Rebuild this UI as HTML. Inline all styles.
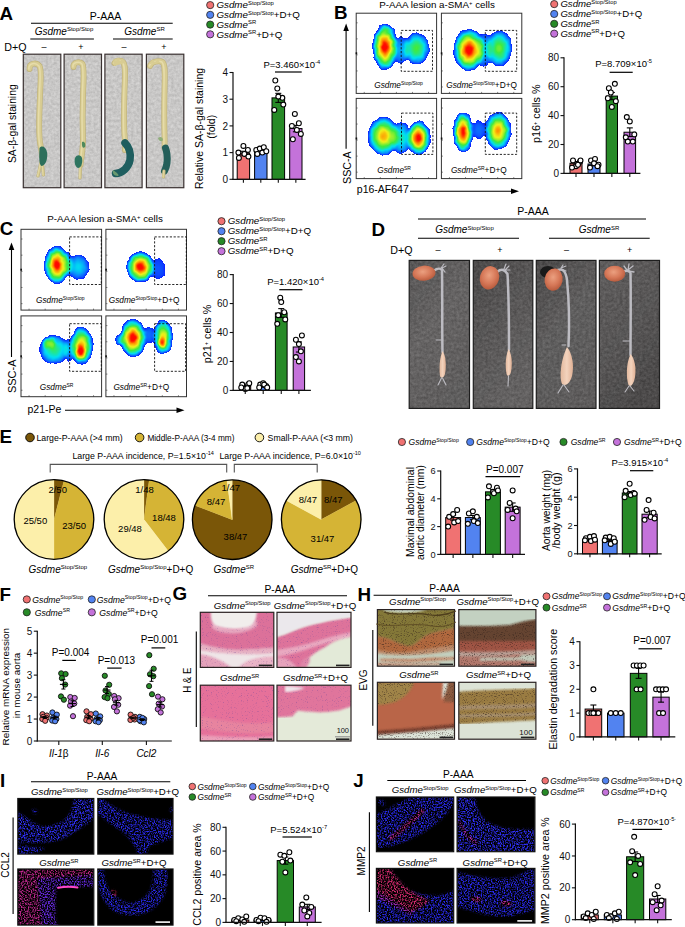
<!DOCTYPE html><html><head><meta charset="utf-8"><style>html,body{margin:0;padding:0;background:#fff;width:685px;height:927px;overflow:hidden}svg text{font-family:"Liberation Sans", sans-serif;}</style></head><body><svg width="685" height="927" viewBox="0 0 685 927" style="display:block"><defs><filter id="jet" x="0" y="0" width="1" height="1" color-interpolation-filters="sRGB">
<feTurbulence type="fractalNoise" baseFrequency="0.25" numOctaves="2" seed="4" result="tn"/>
<feDisplacementMap in="SourceGraphic" in2="tn" scale="4" xChannelSelector="R" yChannelSelector="G" result="dsp"/>
<feGaussianBlur in="dsp" stdDeviation="1.0"/>
<feColorMatrix type="matrix" values="0 0 0 1 0  0 0 0 1 0  0 0 0 1 0  0 0 0 1 0"/>
<feComponentTransfer><feFuncR type="table" tableValues="0.000 0.013 0.025 0.037 0.050 0.050 0.050 0.050 0.050 0.050 0.050 0.043 0.035 0.028 0.021 0.013 0.006 0.007 0.042 0.076 0.111 0.146 0.181 0.215 0.250 0.359 0.469 0.578 0.687 0.797 0.906 0.957 0.968 0.980 0.991 1.000 1.000 1.000 1.000 1.000 1.000"/><feFuncG type="table" tableValues="0.000 0.030 0.060 0.090 0.120 0.175 0.230 0.285 0.340 0.395 0.450 0.513 0.576 0.640 0.703 0.766 0.829 0.881 0.887 0.892 0.898 0.903 0.909 0.914 0.920 0.925 0.929 0.934 0.939 0.943 0.948 0.895 0.805 0.714 0.623 0.519 0.362 0.206 0.050 0.025 0.000"/><feFuncB type="table" tableValues="1.000 1.000 1.000 1.000 1.000 1.000 1.000 1.000 1.000 1.000 1.000 0.993 0.985 0.978 0.971 0.963 0.956 0.931 0.833 0.736 0.639 0.542 0.444 0.347 0.250 0.227 0.203 0.180 0.156 0.133 0.109 0.086 0.064 0.041 0.018 0.000 0.000 0.000 0.000 0.000 0.000"/><feFuncA type="discrete" tableValues="0 0 0 0 1 1 1 1 1 1 1 1 1 1 1 1 1 1 1 1 1 1 1 1 1 1 1 1 1 1 1 1 1 1 1 1 1 1 1 1"/></feComponentTransfer>
</filter><filter id="texp" x="0" y="0" width="100%" height="100%" color-interpolation-filters="sRGB"><feGaussianBlur in="SourceGraphic" stdDeviation="0.8" result="b"/><feTurbulence type="fractalNoise" baseFrequency="0.8" numOctaves="2" seed="9" result="n"/><feColorMatrix in="n" type="matrix" values="0 0 0 0 0.5  0 0 0 0 0.3  0 0 0 0 0.6  2.2 0 0 0 -1.35" result="m"/><feComposite in="m" in2="b" operator="in" result="d"/><feMerge><feMergeNode in="b"/><feMergeNode in="d"/></feMerge></filter><filter id="gnoise" x="0" y="0" width="100%" height="100%" color-interpolation-filters="sRGB"><feTurbulence type="fractalNoise" baseFrequency="0.35" numOctaves="3" seed="11" result="n"/><feColorMatrix in="n" type="matrix" values="1.4 0 0 0 -0.2  1.4 0 0 0 -0.2  1.4 0 0 0 -0.2  0 0 0 0 0.12" result="g"/><feComposite in="g" in2="SourceGraphic" operator="in" result="gc"/><feMerge><feMergeNode in="SourceGraphic"/><feMergeNode in="gc"/></feMerge></filter><filter id="speck" x="0" y="0" width="100%" height="100%" color-interpolation-filters="sRGB"><feGaussianBlur in="SourceGraphic" stdDeviation="1.0" result="b"/><feTurbulence type="fractalNoise" baseFrequency="0.7" numOctaves="3" seed="3" result="n"/><feColorMatrix in="n" type="matrix" values="0 0 0 0 0  0 0 0 0 0  0 0 0 0 0  3.2 0 0 0 -1.3" result="m"/><feComposite in="b" in2="m" operator="in"/></filter><filter id="tex" x="0" y="0" width="100%" height="100%" color-interpolation-filters="sRGB"><feGaussianBlur in="SourceGraphic" stdDeviation="0.9" result="b"/><feTurbulence type="fractalNoise" baseFrequency="0.9" numOctaves="1" seed="5" result="n"/><feColorMatrix in="n" type="matrix" values="0 0 0 0 0.18  0 0 0 0 0.12  0 0 0 0 0.1  2.6 0 0 0 -1.42" result="m"/><feComposite in="m" in2="b" operator="in" result="d"/><feMerge><feMergeNode in="b"/><feMergeNode in="d"/></feMerge></filter><filter id="soft2" x="-5%" y="-5%" width="110%" height="110%"><feGaussianBlur stdDeviation="1.2"/></filter><clipPath id="c356_13"><rect x="356.2" y="13.2" width="80.4" height="80.2"/></clipPath><radialGradient id="rg0"><stop offset="0" stop-color="#fff" stop-opacity="1.000"/><stop offset="0.2" stop-color="#fff" stop-opacity="0.948"/><stop offset="0.4" stop-color="#fff" stop-opacity="0.826"/><stop offset="0.6" stop-color="#fff" stop-opacity="0.669"/><stop offset="0.75" stop-color="#fff" stop-opacity="0.513"/><stop offset="0.88" stop-color="#fff" stop-opacity="0.339"/><stop offset="0.96" stop-color="#fff" stop-opacity="0.200"/><stop offset="1.0" stop-color="#fff" stop-opacity="0.130"/></radialGradient><radialGradient id="rg1"><stop offset="0" stop-color="#fff" stop-opacity="0.620"/><stop offset="0.2" stop-color="#fff" stop-opacity="0.591"/><stop offset="0.4" stop-color="#fff" stop-opacity="0.522"/><stop offset="0.6" stop-color="#fff" stop-opacity="0.434"/><stop offset="0.75" stop-color="#fff" stop-opacity="0.346"/><stop offset="0.88" stop-color="#fff" stop-opacity="0.248"/><stop offset="0.96" stop-color="#fff" stop-opacity="0.169"/><stop offset="1.0" stop-color="#fff" stop-opacity="0.130"/></radialGradient><radialGradient id="rg2"><stop offset="0" stop-color="#fff" stop-opacity="0.350"/><stop offset="0.2" stop-color="#fff" stop-opacity="0.337"/><stop offset="0.4" stop-color="#fff" stop-opacity="0.306"/><stop offset="0.6" stop-color="#fff" stop-opacity="0.266"/><stop offset="0.75" stop-color="#fff" stop-opacity="0.227"/><stop offset="0.88" stop-color="#fff" stop-opacity="0.183"/><stop offset="0.96" stop-color="#fff" stop-opacity="0.148"/><stop offset="1.0" stop-color="#fff" stop-opacity="0.130"/></radialGradient><radialGradient id="rg3"><stop offset="0" stop-color="#fff" stop-opacity="0.200"/><stop offset="0.2" stop-color="#fff" stop-opacity="0.196"/><stop offset="0.4" stop-color="#fff" stop-opacity="0.186"/><stop offset="0.6" stop-color="#fff" stop-opacity="0.173"/><stop offset="0.75" stop-color="#fff" stop-opacity="0.161"/><stop offset="0.88" stop-color="#fff" stop-opacity="0.147"/><stop offset="0.96" stop-color="#fff" stop-opacity="0.136"/><stop offset="1.0" stop-color="#fff" stop-opacity="0.130"/></radialGradient><clipPath id="c441_13"><rect x="441.4" y="13.2" width="80.4" height="80.2"/></clipPath><radialGradient id="rg4"><stop offset="0" stop-color="#fff" stop-opacity="0.660"/><stop offset="0.2" stop-color="#fff" stop-opacity="0.628"/><stop offset="0.4" stop-color="#fff" stop-opacity="0.554"/><stop offset="0.6" stop-color="#fff" stop-opacity="0.459"/><stop offset="0.75" stop-color="#fff" stop-opacity="0.363"/><stop offset="0.88" stop-color="#fff" stop-opacity="0.257"/><stop offset="0.96" stop-color="#fff" stop-opacity="0.172"/><stop offset="1.0" stop-color="#fff" stop-opacity="0.130"/></radialGradient><radialGradient id="rg5"><stop offset="0" stop-color="#fff" stop-opacity="0.380"/><stop offset="0.2" stop-color="#fff" stop-opacity="0.365"/><stop offset="0.4" stop-color="#fff" stop-opacity="0.330"/><stop offset="0.6" stop-color="#fff" stop-opacity="0.285"/><stop offset="0.75" stop-color="#fff" stop-opacity="0.240"/><stop offset="0.88" stop-color="#fff" stop-opacity="0.190"/><stop offset="0.96" stop-color="#fff" stop-opacity="0.150"/><stop offset="1.0" stop-color="#fff" stop-opacity="0.130"/></radialGradient><clipPath id="c356_98"><rect x="356.2" y="98.4" width="80.4" height="80.2"/></clipPath><radialGradient id="rg6"><stop offset="0" stop-color="#fff" stop-opacity="0.860"/><stop offset="0.2" stop-color="#fff" stop-opacity="0.816"/><stop offset="0.4" stop-color="#fff" stop-opacity="0.714"/><stop offset="0.6" stop-color="#fff" stop-opacity="0.583"/><stop offset="0.75" stop-color="#fff" stop-opacity="0.451"/><stop offset="0.88" stop-color="#fff" stop-opacity="0.305"/><stop offset="0.96" stop-color="#fff" stop-opacity="0.188"/><stop offset="1.0" stop-color="#fff" stop-opacity="0.130"/></radialGradient><radialGradient id="rg7"><stop offset="0" stop-color="#fff" stop-opacity="0.500"/><stop offset="0.2" stop-color="#fff" stop-opacity="0.478"/><stop offset="0.4" stop-color="#fff" stop-opacity="0.426"/><stop offset="0.6" stop-color="#fff" stop-opacity="0.359"/><stop offset="0.75" stop-color="#fff" stop-opacity="0.293"/><stop offset="0.88" stop-color="#fff" stop-opacity="0.219"/><stop offset="0.96" stop-color="#fff" stop-opacity="0.160"/><stop offset="1.0" stop-color="#fff" stop-opacity="0.130"/></radialGradient><clipPath id="c441_98"><rect x="441.4" y="98.4" width="80.4" height="80.2"/></clipPath><radialGradient id="rg8"><stop offset="0" stop-color="#fff" stop-opacity="0.880"/><stop offset="0.2" stop-color="#fff" stop-opacity="0.835"/><stop offset="0.4" stop-color="#fff" stop-opacity="0.730"/><stop offset="0.6" stop-color="#fff" stop-opacity="0.595"/><stop offset="0.75" stop-color="#fff" stop-opacity="0.460"/><stop offset="0.88" stop-color="#fff" stop-opacity="0.310"/><stop offset="0.96" stop-color="#fff" stop-opacity="0.190"/><stop offset="1.0" stop-color="#fff" stop-opacity="0.130"/></radialGradient><radialGradient id="rg9"><stop offset="0" stop-color="#fff" stop-opacity="0.250"/><stop offset="0.2" stop-color="#fff" stop-opacity="0.243"/><stop offset="0.4" stop-color="#fff" stop-opacity="0.226"/><stop offset="0.6" stop-color="#fff" stop-opacity="0.204"/><stop offset="0.75" stop-color="#fff" stop-opacity="0.183"/><stop offset="0.88" stop-color="#fff" stop-opacity="0.159"/><stop offset="0.96" stop-color="#fff" stop-opacity="0.140"/><stop offset="1.0" stop-color="#fff" stop-opacity="0.130"/></radialGradient><clipPath id="c21_229"><rect x="21" y="229.3" width="80.6" height="80.8"/></clipPath><radialGradient id="rg10"><stop offset="0" stop-color="#fff" stop-opacity="0.420"/><stop offset="0.2" stop-color="#fff" stop-opacity="0.403"/><stop offset="0.4" stop-color="#fff" stop-opacity="0.362"/><stop offset="0.6" stop-color="#fff" stop-opacity="0.310"/><stop offset="0.75" stop-color="#fff" stop-opacity="0.258"/><stop offset="0.88" stop-color="#fff" stop-opacity="0.200"/><stop offset="0.96" stop-color="#fff" stop-opacity="0.153"/><stop offset="1.0" stop-color="#fff" stop-opacity="0.130"/></radialGradient><radialGradient id="rg11"><stop offset="0" stop-color="#fff" stop-opacity="0.300"/><stop offset="0.2" stop-color="#fff" stop-opacity="0.290"/><stop offset="0.4" stop-color="#fff" stop-opacity="0.266"/><stop offset="0.6" stop-color="#fff" stop-opacity="0.235"/><stop offset="0.75" stop-color="#fff" stop-opacity="0.205"/><stop offset="0.88" stop-color="#fff" stop-opacity="0.171"/><stop offset="0.96" stop-color="#fff" stop-opacity="0.144"/><stop offset="1.0" stop-color="#fff" stop-opacity="0.130"/></radialGradient><clipPath id="c105_229"><rect x="105.9" y="229.3" width="80.6" height="80.8"/></clipPath><clipPath id="c21_315"><rect x="21" y="315.9" width="80.6" height="80.8"/></clipPath><radialGradient id="rg12"><stop offset="0" stop-color="#fff" stop-opacity="0.560"/><stop offset="0.2" stop-color="#fff" stop-opacity="0.534"/><stop offset="0.4" stop-color="#fff" stop-opacity="0.474"/><stop offset="0.6" stop-color="#fff" stop-opacity="0.397"/><stop offset="0.75" stop-color="#fff" stop-opacity="0.319"/><stop offset="0.88" stop-color="#fff" stop-opacity="0.233"/><stop offset="0.96" stop-color="#fff" stop-opacity="0.164"/><stop offset="1.0" stop-color="#fff" stop-opacity="0.130"/></radialGradient><radialGradient id="rg13"><stop offset="0" stop-color="#fff" stop-opacity="0.450"/><stop offset="0.2" stop-color="#fff" stop-opacity="0.431"/><stop offset="0.4" stop-color="#fff" stop-opacity="0.386"/><stop offset="0.6" stop-color="#fff" stop-opacity="0.328"/><stop offset="0.75" stop-color="#fff" stop-opacity="0.271"/><stop offset="0.88" stop-color="#fff" stop-opacity="0.207"/><stop offset="0.96" stop-color="#fff" stop-opacity="0.156"/><stop offset="1.0" stop-color="#fff" stop-opacity="0.130"/></radialGradient><radialGradient id="rg14"><stop offset="0" stop-color="#fff" stop-opacity="0.850"/><stop offset="0.2" stop-color="#fff" stop-opacity="0.807"/><stop offset="0.4" stop-color="#fff" stop-opacity="0.706"/><stop offset="0.6" stop-color="#fff" stop-opacity="0.576"/><stop offset="0.75" stop-color="#fff" stop-opacity="0.447"/><stop offset="0.88" stop-color="#fff" stop-opacity="0.303"/><stop offset="0.96" stop-color="#fff" stop-opacity="0.188"/><stop offset="1.0" stop-color="#fff" stop-opacity="0.130"/></radialGradient><clipPath id="c105_315"><rect x="105.9" y="315.9" width="80.6" height="80.8"/></clipPath><radialGradient id="rg15"><stop offset="0" stop-color="#fff" stop-opacity="0.800"/><stop offset="0.2" stop-color="#fff" stop-opacity="0.760"/><stop offset="0.4" stop-color="#fff" stop-opacity="0.666"/><stop offset="0.6" stop-color="#fff" stop-opacity="0.545"/><stop offset="0.75" stop-color="#fff" stop-opacity="0.425"/><stop offset="0.88" stop-color="#fff" stop-opacity="0.291"/><stop offset="0.96" stop-color="#fff" stop-opacity="0.184"/><stop offset="1.0" stop-color="#fff" stop-opacity="0.130"/></radialGradient><linearGradient id="dbg" x1="0" y1="0" x2="0.4" y2="1"><stop offset="0" stop-color="#434343"/><stop offset="0.5" stop-color="#555555"/><stop offset="1" stop-color="#525252"/></linearGradient><radialGradient id="heart" cx="0.45" cy="0.4" r="0.6"><stop offset="0" stop-color="#eba080"/><stop offset="0.6" stop-color="#d67858"/><stop offset="1" stop-color="#b95c3e"/></radialGradient><linearGradient id="bulge" x1="0" y1="0" x2="1" y2="0"><stop offset="0" stop-color="#e3b99e"/><stop offset="0.5" stop-color="#f3d3bd"/><stop offset="1" stop-color="#e0b094"/></linearGradient><linearGradient id="dbg0" x1="0" y1="0" x2="0.5" y2="1"><stop offset="0" stop-color="#535151"/><stop offset="0.5" stop-color="#636161"/><stop offset="1" stop-color="#5c5a5a"/></linearGradient><linearGradient id="dbg1" x1="0" y1="0" x2="0.5" y2="1"><stop offset="0" stop-color="#444242"/><stop offset="0.5" stop-color="#555353"/><stop offset="1" stop-color="#615f5f"/></linearGradient><linearGradient id="dbg2" x1="0" y1="0" x2="0.5" y2="1"><stop offset="0" stop-color="#444242"/><stop offset="0.5" stop-color="#5c5a5a"/><stop offset="1" stop-color="#5a5858"/></linearGradient><linearGradient id="dbg3" x1="0" y1="0" x2="0.5" y2="1"><stop offset="0" stop-color="#5a5858"/><stop offset="0.5" stop-color="#555353"/><stop offset="1" stop-color="#464444"/></linearGradient><filter id="soft" x="-5%" y="-5%" width="110%" height="110%"><feGaussianBlur stdDeviation="0.8"/></filter><clipPath id="ci200_612"><rect x="200.3" y="612.3" width="73.5" height="55.1"/></clipPath><clipPath id="ci277_612"><rect x="277" y="612.3" width="74" height="55.1"/></clipPath><clipPath id="ci200_685"><rect x="200.3" y="685.2" width="73.5" height="55.8"/></clipPath><clipPath id="ci277_685"><rect x="277" y="685.2" width="74" height="55.8"/></clipPath><clipPath id="ci377_609"><rect x="377.4" y="609.6" width="77.1" height="56.6"/></clipPath><clipPath id="ci458_609"><rect x="458.8" y="609.6" width="77.1" height="56.6"/></clipPath><clipPath id="ci377_682"><rect x="377.4" y="682.3" width="77.1" height="56.9"/></clipPath><clipPath id="ci458_682"><rect x="458.8" y="682.3" width="77.1" height="56.9"/></clipPath><clipPath id="ci17_798"><rect x="17.8" y="798.5" width="76" height="55.6"/></clipPath><clipPath id="ci97_798"><rect x="97.8" y="798.5" width="75.2" height="55.6"/></clipPath><clipPath id="ci17_869"><rect x="17.8" y="869" width="76" height="56.1"/></clipPath><clipPath id="ci97_869"><rect x="97.8" y="869" width="75.2" height="56.1"/></clipPath><clipPath id="ci376_797"><rect x="376.4" y="797" width="77.3" height="54.7"/></clipPath><clipPath id="ci457_797"><rect x="457.1" y="797" width="77.8" height="54.7"/></clipPath><clipPath id="ci376_868"><rect x="376.4" y="868.4" width="77.3" height="54.6"/></clipPath><clipPath id="ci457_868"><rect x="457.1" y="868.4" width="77.8" height="54.6"/></clipPath></defs><text x="-0.5" y="19.6" font-size="18.8" font-weight="bold" >A</text>
<text x="105.5" y="19.6" font-size="10.5" text-anchor="middle" >P-AAA</text>
<line x1="31" y1="23.2" x2="172.7" y2="23.2" stroke="#000" stroke-width="1.1" />
<text x="64" y="35" font-size="10" text-anchor="middle"><tspan font-style="italic">Gsdme</tspan><tspan font-size="6" dy="-3.6">Stop/Stop</tspan></text>
<text x="144.5" y="35" font-size="10" text-anchor="middle"><tspan font-style="italic">Gsdme</tspan><tspan font-size="6" dy="-3.6">SR</tspan></text>
<line x1="30.3" y1="39" x2="93.9" y2="39" stroke="#000" stroke-width="1.1" />
<line x1="113" y1="39" x2="172.7" y2="39" stroke="#000" stroke-width="1.1" />
<text x="4.2" y="51" font-size="10.7" >D+Q</text>
<text x="44" y="50.3" font-size="9" text-anchor="middle" >–</text>
<text x="81" y="50.3" font-size="9" text-anchor="middle" >+</text>
<text x="124" y="50.3" font-size="9" text-anchor="middle" >–</text>
<text x="163.8" y="50.3" font-size="9" text-anchor="middle" >+</text>
<text x="16" y="123.7" font-size="10.3" text-anchor="middle" transform="rotate(-90 16 123.7)" >SA-β-gal staining</text>
<rect x="23.3" y="54.2" width="37.5" height="133.5" fill="#d3d2d1" filter="url(#gnoise)"/>
<rect x="23.3" y="54.2" width="37.5" height="133.5" fill="none" stroke="#3a3131" stroke-width="1.2" />
<rect x="64.1" y="54.2" width="37.4" height="133.5" fill="#d3d2d1" filter="url(#gnoise)"/>
<rect x="64.1" y="54.2" width="37.4" height="133.5" fill="none" stroke="#3a3131" stroke-width="1.2" />
<rect x="104.9" y="54.2" width="37.2" height="133.5" fill="#d3d2d1" filter="url(#gnoise)"/>
<rect x="104.9" y="54.2" width="37.2" height="133.5" fill="none" stroke="#3a3131" stroke-width="1.2" />
<rect x="146.4" y="54.2" width="37.4" height="133.5" fill="#d3d2d1" filter="url(#gnoise)"/>
<rect x="146.4" y="54.2" width="37.4" height="133.5" fill="none" stroke="#3a3131" stroke-width="1.2" />
<path d="M29.5,69 C29,63 36,62 39.5,66 C42,70 40.5,80 40,95 C39.5,110 38.5,125 39.5,138 C40,146 42,150 42,156" fill="none" stroke="#bfb27a" stroke-width="5.9" stroke-linecap="round" stroke-linejoin="round"/>
<path d="M29.5,69 C29,63 36,62 39.5,66 C42,70 40.5,80 40,95 C39.5,110 38.5,125 39.5,138 C40,146 42,150 42,156" fill="none" stroke="#d8cc92" stroke-width="4.6000000000000005" stroke-linecap="round" stroke-linejoin="round"/>
<path d="M29.5,69 C29,63 36,62 39.5,66 C42,70 40.5,80 40,95 C39.5,110 38.5,125 39.5,138 C40,146 42,150 42,156" fill="none" stroke="#e6dcaa" stroke-width="1.47" stroke-linecap="round" stroke-linejoin="round" transform="translate(-0.6,0)"/>
<path d="M41.5,160 L38,176 M42,160 L43.5,175" fill="none" stroke="#bfb27a" stroke-width="3.2" stroke-linecap="round" stroke-linejoin="round"/>
<path d="M41.5,160 L38,176 M42,160 L43.5,175" fill="none" stroke="#d8cc92" stroke-width="1.9000000000000001" stroke-linecap="round" stroke-linejoin="round"/>
<path d="M41.5,160 L38,176 M42,160 L43.5,175" fill="none" stroke="#e6dcaa" stroke-width="0.80" stroke-linecap="round" stroke-linejoin="round" transform="translate(-0.6,0)"/>
<path d="M39.5,148 C42,145 46,147 47,152 C48,158 46,165 42,166 C39,166 39,158 39.5,148 Z" fill="#2d6f5b"/>
<path d="M73.5,67 C73,62 80,61 82.5,64 C84.5,68 83.5,80 83,95 C82.5,110 82.5,125 83,140 C83,150 81,158 80.5,165" fill="none" stroke="#bfb27a" stroke-width="5.9" stroke-linecap="round" stroke-linejoin="round"/>
<path d="M73.5,67 C73,62 80,61 82.5,64 C84.5,68 83.5,80 83,95 C82.5,110 82.5,125 83,140 C83,150 81,158 80.5,165" fill="none" stroke="#d8cc92" stroke-width="4.6000000000000005" stroke-linecap="round" stroke-linejoin="round"/>
<path d="M73.5,67 C73,62 80,61 82.5,64 C84.5,68 83.5,80 83,95 C82.5,110 82.5,125 83,140 C83,150 81,158 80.5,165" fill="none" stroke="#e6dcaa" stroke-width="1.47" stroke-linecap="round" stroke-linejoin="round" transform="translate(-0.6,0)"/>
<path d="M80.5,166 L80,178" fill="none" stroke="#bfb27a" stroke-width="3.2" stroke-linecap="round" stroke-linejoin="round"/>
<path d="M80.5,166 L80,178" fill="none" stroke="#d8cc92" stroke-width="1.9000000000000001" stroke-linecap="round" stroke-linejoin="round"/>
<path d="M80.5,166 L80,178" fill="none" stroke="#e6dcaa" stroke-width="0.80" stroke-linecap="round" stroke-linejoin="round" transform="translate(-0.6,0)"/>
<path d="M82,142 C84.5,141 86,144 85,147 C83,149 81.5,147 82,142 Z" fill="#4e8a5c"/>
<path d="M75,158 C77,154 81,155 82,158 C83,163 81,168 78,168 C75,167 74,162 75,158 Z" fill="#2e7560"/>
<path d="M114.5,63 C116,60 121,60 123,62 C126,66 125,75 124.5,90 C124,105 123.5,120 124.5,135 C125,142 125.5,146 125,150" fill="none" stroke="#bfb27a" stroke-width="5.9" stroke-linecap="round" stroke-linejoin="round"/>
<path d="M114.5,63 C116,60 121,60 123,62 C126,66 125,75 124.5,90 C124,105 123.5,120 124.5,135 C125,142 125.5,146 125,150" fill="none" stroke="#d8cc92" stroke-width="4.6000000000000005" stroke-linecap="round" stroke-linejoin="round"/>
<path d="M114.5,63 C116,60 121,60 123,62 C126,66 125,75 124.5,90 C124,105 123.5,120 124.5,135 C125,142 125.5,146 125,150" fill="none" stroke="#e6dcaa" stroke-width="1.47" stroke-linecap="round" stroke-linejoin="round" transform="translate(-0.6,0)"/>
<path d="M113.5,58.5 L116,61 L118,57.5 L120,61 L123,58.5 L125,63 L114,66 Z" fill="#d8cc92"/>
<path d="M125,143 C129,147 131,153 130,160 C128.5,168 122,173 115.5,173.5" fill="none" stroke="#1f5e5f" stroke-width="7.5" stroke-linecap="round"/>
<path d="M113,170 C116,172 120,175 118,176 C114,176 112,173 113,170 Z" fill="#6a9a70"/>
<path d="M150,66 C151,62 158,60 162.5,62 C165.5,65 164.8,75 164.5,90 C164.2,105 164,120 164.5,135 C164.8,141 164.5,145 164.5,148" fill="none" stroke="#bfb27a" stroke-width="5.9" stroke-linecap="round" stroke-linejoin="round"/>
<path d="M150,66 C151,62 158,60 162.5,62 C165.5,65 164.8,75 164.5,90 C164.2,105 164,120 164.5,135 C164.8,141 164.5,145 164.5,148" fill="none" stroke="#d8cc92" stroke-width="4.6000000000000005" stroke-linecap="round" stroke-linejoin="round"/>
<path d="M150,66 C151,62 158,60 162.5,62 C165.5,65 164.8,75 164.5,90 C164.2,105 164,120 164.5,135 C164.8,141 164.5,145 164.5,148" fill="none" stroke="#e6dcaa" stroke-width="1.47" stroke-linecap="round" stroke-linejoin="round" transform="translate(-0.6,0)"/>
<path d="M149.5,64 L152,59.5 L155,62 L158,59 L160,63 Z" fill="#d8cc92"/>
<path d="M165.5,148 C167,152 167.5,158 167,163 C166.5,167 165,170 164.5,171" fill="none" stroke="#245f5a" stroke-width="7" stroke-linecap="round"/>
<path d="M164,171 L163.5,177" fill="none" stroke="#bfb27a" stroke-width="3.2" stroke-linecap="round" stroke-linejoin="round"/>
<path d="M164,171 L163.5,177" fill="none" stroke="#d8cc92" stroke-width="1.9000000000000001" stroke-linecap="round" stroke-linejoin="round"/>
<path d="M164,171 L163.5,177" fill="none" stroke="#e6dcaa" stroke-width="0.80" stroke-linecap="round" stroke-linejoin="round" transform="translate(-0.6,0)"/>
<path d="M158,138 C160,136 163,137 163,140 C162,142 159,142 158,138 Z" fill="#8fae7a"/>
<circle cx="210.2" cy="5.1" r="3.6" fill="#f07272" stroke="#222" stroke-width="0.8"/>
<text x="216.4" y="8.3" font-size="9.8"><tspan font-style="italic">Gsdme</tspan><tspan font-size="5.88" dy="-3.53">Stop/Stop</tspan></text>
<circle cx="210.2" cy="14.85" r="3.6" fill="#5283f0" stroke="#222" stroke-width="0.8"/>
<text x="216.4" y="18.05" font-size="9.8"><tspan font-style="italic">Gsdme</tspan><tspan font-size="5.88" dy="-3.53">Stop/Stop</tspan><tspan dy="3.53">+D+Q</tspan></text>
<circle cx="210.2" cy="24.6" r="3.6" fill="#278a27" stroke="#222" stroke-width="0.8"/>
<text x="216.4" y="27.8" font-size="9.8"><tspan font-style="italic">Gsdme</tspan><tspan font-size="5.88" dy="-3.53">SR</tspan></text>
<circle cx="210.2" cy="34.35" r="3.6" fill="#c472da" stroke="#222" stroke-width="0.8"/>
<text x="216.4" y="37.55" font-size="9.8"><tspan font-style="italic">Gsdme</tspan><tspan font-size="5.88" dy="-3.53">SR</tspan><tspan dy="3.53">+D+Q</tspan></text>
<rect x="237.2" y="153.13" width="12.4" height="26.17" fill="#f07272" stroke="#000" stroke-width="1.0" />
<line x1="243.4" y1="155" x2="243.4" y2="151.27" stroke="#000" stroke-width="1.1" />
<line x1="240.4" y1="151.27" x2="246.4" y2="151.27" stroke="#000" stroke-width="1.1" />
<line x1="240.4" y1="155" x2="246.4" y2="155" stroke="#000" stroke-width="1.1" />
<circle cx="238.4" cy="152.6" r="2.45" fill="#fff" stroke="#000" stroke-width="1.1"/>
<circle cx="243.4" cy="145.93" r="2.45" fill="#fff" stroke="#000" stroke-width="1.1"/>
<circle cx="247.9" cy="149.93" r="2.45" fill="#fff" stroke="#000" stroke-width="1.1"/>
<circle cx="238.9" cy="157.94" r="2.45" fill="#fff" stroke="#000" stroke-width="1.1"/>
<circle cx="244.4" cy="153.94" r="2.45" fill="#fff" stroke="#000" stroke-width="1.1"/>
<circle cx="248.4" cy="156.61" r="2.45" fill="#fff" stroke="#000" stroke-width="1.1"/>
<rect x="254.6" y="152.6" width="12.4" height="26.7" fill="#5283f0" stroke="#000" stroke-width="1.0" />
<line x1="260.8" y1="153.94" x2="260.8" y2="151.27" stroke="#000" stroke-width="1.1" />
<line x1="257.8" y1="151.27" x2="263.8" y2="151.27" stroke="#000" stroke-width="1.1" />
<line x1="257.8" y1="153.94" x2="263.8" y2="153.94" stroke="#000" stroke-width="1.1" />
<circle cx="256.3" cy="149.93" r="2.45" fill="#fff" stroke="#000" stroke-width="1.1"/>
<circle cx="259.8" cy="148.59" r="2.45" fill="#fff" stroke="#000" stroke-width="1.1"/>
<circle cx="263.8" cy="147.26" r="2.45" fill="#fff" stroke="#000" stroke-width="1.1"/>
<circle cx="257.3" cy="153.94" r="2.45" fill="#fff" stroke="#000" stroke-width="1.1"/>
<circle cx="262.3" cy="152.6" r="2.45" fill="#fff" stroke="#000" stroke-width="1.1"/>
<circle cx="266.3" cy="151.27" r="2.45" fill="#fff" stroke="#000" stroke-width="1.1"/>
<rect x="272" y="97.87" width="12.6" height="81.44" fill="#278a27" stroke="#000" stroke-width="1.0" />
<line x1="278.3" y1="102.4" x2="278.3" y2="93.33" stroke="#000" stroke-width="1.1" />
<line x1="275.3" y1="93.33" x2="281.3" y2="93.33" stroke="#000" stroke-width="1.1" />
<line x1="275.3" y1="102.4" x2="281.3" y2="102.4" stroke="#000" stroke-width="1.1" />
<circle cx="275.3" cy="80.51" r="2.45" fill="#fff" stroke="#000" stroke-width="1.1"/>
<circle cx="277.3" cy="88.52" r="2.45" fill="#fff" stroke="#000" stroke-width="1.1"/>
<circle cx="282.3" cy="97.87" r="2.45" fill="#fff" stroke="#000" stroke-width="1.1"/>
<circle cx="274.3" cy="109.88" r="2.45" fill="#fff" stroke="#000" stroke-width="1.1"/>
<circle cx="278.3" cy="96.53" r="2.45" fill="#fff" stroke="#000" stroke-width="1.1"/>
<circle cx="283.3" cy="104.54" r="2.45" fill="#fff" stroke="#000" stroke-width="1.1"/>
<rect x="289.7" y="128.57" width="12.3" height="50.73" fill="#c472da" stroke="#000" stroke-width="1.0" />
<line x1="295.85" y1="131.77" x2="295.85" y2="125.37" stroke="#000" stroke-width="1.1" />
<line x1="292.85" y1="125.37" x2="298.85" y2="125.37" stroke="#000" stroke-width="1.1" />
<line x1="292.85" y1="131.77" x2="298.85" y2="131.77" stroke="#000" stroke-width="1.1" />
<circle cx="294.85" cy="113.89" r="2.45" fill="#fff" stroke="#000" stroke-width="1.1"/>
<circle cx="291.85" cy="125.9" r="2.45" fill="#fff" stroke="#000" stroke-width="1.1"/>
<circle cx="298.85" cy="123.23" r="2.45" fill="#fff" stroke="#000" stroke-width="1.1"/>
<circle cx="292.85" cy="139.25" r="2.45" fill="#fff" stroke="#000" stroke-width="1.1"/>
<circle cx="296.85" cy="129.91" r="2.45" fill="#fff" stroke="#000" stroke-width="1.1"/>
<circle cx="300.85" cy="133.91" r="2.45" fill="#fff" stroke="#000" stroke-width="1.1"/>
<line x1="233" y1="72" x2="233" y2="179.8" stroke="#111" stroke-width="1.2" />
<line x1="232.4" y1="179.3" x2="305.6" y2="179.3" stroke="#111" stroke-width="1.2" />
<line x1="229.5" y1="179.3" x2="233" y2="179.3" stroke="#111" stroke-width="1.1" />
<text x="228" y="182.9" font-size="10" text-anchor="end" fill="#111" >0</text>
<line x1="229.5" y1="152.6" x2="233" y2="152.6" stroke="#111" stroke-width="1.1" />
<text x="228" y="156.2" font-size="10" text-anchor="end" fill="#111" >1</text>
<line x1="229.5" y1="125.9" x2="233" y2="125.9" stroke="#111" stroke-width="1.1" />
<text x="228" y="129.5" font-size="10" text-anchor="end" fill="#111" >2</text>
<line x1="229.5" y1="99.2" x2="233" y2="99.2" stroke="#111" stroke-width="1.1" />
<text x="228" y="102.8" font-size="10" text-anchor="end" fill="#111" >3</text>
<line x1="229.5" y1="72.5" x2="233" y2="72.5" stroke="#111" stroke-width="1.1" />
<text x="228" y="76.1" font-size="10" text-anchor="end" fill="#111" >4</text>
<line x1="243.4" y1="179.3" x2="243.4" y2="182.8" stroke="#111" stroke-width="1.1" />
<line x1="260.8" y1="179.3" x2="260.8" y2="182.8" stroke="#111" stroke-width="1.1" />
<line x1="278.3" y1="179.3" x2="278.3" y2="182.8" stroke="#111" stroke-width="1.1" />
<line x1="295.85" y1="179.3" x2="295.85" y2="182.8" stroke="#111" stroke-width="1.1" />
<line x1="275" y1="72" x2="301.7" y2="72" stroke="#000" stroke-width="1.2" />
<text x="291.8" y="67.5" font-size="9.5" text-anchor="middle">P=3.460×10<tspan font-size="5.7" dy="-3.8">-4</tspan></text>
<text x="203.4" y="128.4" font-size="10.5" text-anchor="middle" transform="rotate(-90 203.4 128.4)" >Relative SA-β-gal staining</text>
<text x="214.8" y="126.8" font-size="10.5" text-anchor="middle" transform="rotate(-90 214.8 126.8)" >(fold)</text>
<text x="334" y="19.3" font-size="18.8" font-weight="bold" >B</text>
<text x="437" y="8.3" font-size="9.8" text-anchor="middle">P-AAA lesion a-SMA<tspan font-size="5.8" dy="-3.5">+</tspan><tspan dy="3.5"> cells</tspan></text>
<line x1="346.1" y1="30" x2="346.1" y2="148.7" stroke="#000" stroke-width="1.1" />
<path d="M346.1,23.5 L343.3,31 L348.9,31 Z" fill="#000"/>
<text x="350.9" y="167.6" font-size="10.7" text-anchor="middle" transform="rotate(-90 350.9 167.6)" >SSC-A</text>
<text x="356.8" y="192.6" font-size="10.5" >p16-AF647</text>
<line x1="410" y1="191.2" x2="512" y2="191.2" stroke="#000" stroke-width="1.1" />
<path d="M519,191.2 L511,188.4 L511,194 Z" fill="#000"/>
<rect x="356.2" y="13.2" width="80.4" height="80.2" fill="#fff" stroke="#333" stroke-width="1.0" />
<g clip-path="url(#c356_13)"><g filter="url(#jet)"><rect x="356.2" y="13.2" width="80.4" height="80.2" fill="#fff" fill-opacity="0"/><ellipse cx="385" cy="47" rx="12.5" ry="23" fill="url(#rg0)"/><ellipse cx="416.5" cy="48.5" rx="13" ry="16" fill="url(#rg1)"/><ellipse cx="401" cy="50" rx="8" ry="14" fill="url(#rg2)"/><ellipse cx="385" cy="28" rx="5" ry="4" fill="url(#rg3)"/><ellipse cx="371" cy="61" rx="1.3" ry="1.3" fill="url(#rg3)"/></g></g>
<rect x="401.2" y="30.4" width="31.3" height="40.9" fill="none" stroke="#111" stroke-width="0.9" stroke-dasharray="2.2 1.6"/>
<line x1="356.2" y1="22.82" x2="357.7" y2="22.82" stroke="#333" stroke-width="0.6" />
<line x1="364.24" y1="93.4" x2="364.24" y2="91.9" stroke="#333" stroke-width="0.6" />
<line x1="356.2" y1="38.86" x2="357.7" y2="38.86" stroke="#333" stroke-width="0.6" />
<line x1="380.32" y1="93.4" x2="380.32" y2="91.9" stroke="#333" stroke-width="0.6" />
<line x1="356.2" y1="54.9" x2="357.7" y2="54.9" stroke="#333" stroke-width="0.6" />
<line x1="396.4" y1="93.4" x2="396.4" y2="91.9" stroke="#333" stroke-width="0.6" />
<line x1="356.2" y1="70.94" x2="357.7" y2="70.94" stroke="#333" stroke-width="0.6" />
<line x1="412.48" y1="93.4" x2="412.48" y2="91.9" stroke="#333" stroke-width="0.6" />
<line x1="356.2" y1="86.98" x2="357.7" y2="86.98" stroke="#333" stroke-width="0.6" />
<line x1="428.56" y1="93.4" x2="428.56" y2="91.9" stroke="#333" stroke-width="0.6" />
<rect x="355.6" y="52.3" width="1.6" height="2" fill="#111"/>
<text x="398.5" y="88" font-size="8.3" text-anchor="middle"><tspan font-style="italic">Gsdme</tspan><tspan font-size="4.98" dy="-2.99">Stop/Stop</tspan></text>
<rect x="441.4" y="13.2" width="80.4" height="80.2" fill="#fff" stroke="#333" stroke-width="1.0" />
<g clip-path="url(#c441_13)"><g filter="url(#jet)"><rect x="441.4" y="13.2" width="80.4" height="80.2" fill="#fff" fill-opacity="0"/><ellipse cx="469" cy="50" rx="15.5" ry="21" fill="url(#rg0)"/><ellipse cx="499" cy="48.5" rx="13" ry="18" fill="url(#rg4)"/><ellipse cx="484" cy="50" rx="8" ry="17" fill="url(#rg5)"/></g></g>
<rect x="485.3" y="30.4" width="31.4" height="40.9" fill="none" stroke="#111" stroke-width="0.9" stroke-dasharray="2.2 1.6"/>
<line x1="441.4" y1="22.82" x2="442.9" y2="22.82" stroke="#333" stroke-width="0.6" />
<line x1="449.44" y1="93.4" x2="449.44" y2="91.9" stroke="#333" stroke-width="0.6" />
<line x1="441.4" y1="38.86" x2="442.9" y2="38.86" stroke="#333" stroke-width="0.6" />
<line x1="465.52" y1="93.4" x2="465.52" y2="91.9" stroke="#333" stroke-width="0.6" />
<line x1="441.4" y1="54.9" x2="442.9" y2="54.9" stroke="#333" stroke-width="0.6" />
<line x1="481.6" y1="93.4" x2="481.6" y2="91.9" stroke="#333" stroke-width="0.6" />
<line x1="441.4" y1="70.94" x2="442.9" y2="70.94" stroke="#333" stroke-width="0.6" />
<line x1="497.68" y1="93.4" x2="497.68" y2="91.9" stroke="#333" stroke-width="0.6" />
<line x1="441.4" y1="86.98" x2="442.9" y2="86.98" stroke="#333" stroke-width="0.6" />
<line x1="513.76" y1="93.4" x2="513.76" y2="91.9" stroke="#333" stroke-width="0.6" />
<rect x="440.8" y="52.3" width="1.6" height="2" fill="#111"/>
<text x="481.6" y="88" font-size="8.3" text-anchor="middle"><tspan font-style="italic">Gsdme</tspan><tspan font-size="4.98" dy="-2.99">Stop/Stop</tspan><tspan dy="2.99">+D+Q</tspan></text>
<rect x="356.2" y="98.4" width="80.4" height="80.2" fill="#fff" stroke="#333" stroke-width="1.0" />
<g clip-path="url(#c356_98)"><g filter="url(#jet)"><rect x="356.2" y="98.4" width="80.4" height="80.2" fill="#fff" fill-opacity="0"/><ellipse cx="383.5" cy="136" rx="15.5" ry="19" fill="url(#rg6)"/><ellipse cx="418.5" cy="138" rx="11.5" ry="17" fill="url(#rg0)"/><ellipse cx="401" cy="138" rx="10" ry="16" fill="url(#rg7)"/></g></g>
<rect x="401.5" y="113.1" width="31.4" height="41.3" fill="none" stroke="#111" stroke-width="0.9" stroke-dasharray="2.2 1.6"/>
<line x1="356.2" y1="108.02" x2="357.7" y2="108.02" stroke="#333" stroke-width="0.6" />
<line x1="364.24" y1="178.6" x2="364.24" y2="177.1" stroke="#333" stroke-width="0.6" />
<line x1="356.2" y1="124.06" x2="357.7" y2="124.06" stroke="#333" stroke-width="0.6" />
<line x1="380.32" y1="178.6" x2="380.32" y2="177.1" stroke="#333" stroke-width="0.6" />
<line x1="356.2" y1="140.1" x2="357.7" y2="140.1" stroke="#333" stroke-width="0.6" />
<line x1="396.4" y1="178.6" x2="396.4" y2="177.1" stroke="#333" stroke-width="0.6" />
<line x1="356.2" y1="156.14" x2="357.7" y2="156.14" stroke="#333" stroke-width="0.6" />
<line x1="412.48" y1="178.6" x2="412.48" y2="177.1" stroke="#333" stroke-width="0.6" />
<line x1="356.2" y1="172.18" x2="357.7" y2="172.18" stroke="#333" stroke-width="0.6" />
<line x1="428.56" y1="178.6" x2="428.56" y2="177.1" stroke="#333" stroke-width="0.6" />
<rect x="355.6" y="137.5" width="1.6" height="2" fill="#111"/>
<text x="394.1" y="173.2" font-size="8.3" text-anchor="middle"><tspan font-style="italic">Gsdme</tspan><tspan font-size="4.98" dy="-2.99">SR</tspan></text>
<rect x="441.4" y="98.4" width="80.4" height="80.2" fill="#fff" stroke="#333" stroke-width="1.0" />
<g clip-path="url(#c441_98)"><g filter="url(#jet)"><rect x="441.4" y="98.4" width="80.4" height="80.2" fill="#fff" fill-opacity="0"/><ellipse cx="463" cy="132" rx="9.8" ry="20.5" fill="url(#rg0)"/><ellipse cx="498" cy="131" rx="13" ry="18.8" fill="url(#rg8)"/><ellipse cx="479" cy="130" rx="7" ry="10" fill="url(#rg9)"/><ellipse cx="494.5" cy="150.5" rx="1.2" ry="1.2" fill="url(#rg3)"/></g></g>
<rect x="485.3" y="113.1" width="31.4" height="41.3" fill="none" stroke="#111" stroke-width="0.9" stroke-dasharray="2.2 1.6"/>
<line x1="441.4" y1="108.02" x2="442.9" y2="108.02" stroke="#333" stroke-width="0.6" />
<line x1="449.44" y1="178.6" x2="449.44" y2="177.1" stroke="#333" stroke-width="0.6" />
<line x1="441.4" y1="124.06" x2="442.9" y2="124.06" stroke="#333" stroke-width="0.6" />
<line x1="465.52" y1="178.6" x2="465.52" y2="177.1" stroke="#333" stroke-width="0.6" />
<line x1="441.4" y1="140.1" x2="442.9" y2="140.1" stroke="#333" stroke-width="0.6" />
<line x1="481.6" y1="178.6" x2="481.6" y2="177.1" stroke="#333" stroke-width="0.6" />
<line x1="441.4" y1="156.14" x2="442.9" y2="156.14" stroke="#333" stroke-width="0.6" />
<line x1="497.68" y1="178.6" x2="497.68" y2="177.1" stroke="#333" stroke-width="0.6" />
<line x1="441.4" y1="172.18" x2="442.9" y2="172.18" stroke="#333" stroke-width="0.6" />
<line x1="513.76" y1="178.6" x2="513.76" y2="177.1" stroke="#333" stroke-width="0.6" />
<rect x="440.8" y="137.5" width="1.6" height="2" fill="#111"/>
<text x="478.8" y="173.2" font-size="8.3" text-anchor="middle"><tspan font-style="italic">Gsdme</tspan><tspan font-size="4.98" dy="-2.99">SR</tspan><tspan dy="2.99">+D+Q</tspan></text>
<circle cx="554.2" cy="4.1" r="3.6" fill="#f07272" stroke="#222" stroke-width="0.8"/>
<text x="560.4" y="7.3" font-size="9.6"><tspan font-style="italic">Gsdme</tspan><tspan font-size="5.76" dy="-3.46">Stop/Stop</tspan></text>
<circle cx="554.2" cy="13.95" r="3.6" fill="#5283f0" stroke="#222" stroke-width="0.8"/>
<text x="560.4" y="17.15" font-size="9.6"><tspan font-style="italic">Gsdme</tspan><tspan font-size="5.76" dy="-3.46">Stop/Stop</tspan><tspan dy="3.46">+D+Q</tspan></text>
<circle cx="554.2" cy="23.8" r="3.6" fill="#278a27" stroke="#222" stroke-width="0.8"/>
<text x="560.4" y="27" font-size="9.6"><tspan font-style="italic">Gsdme</tspan><tspan font-size="5.76" dy="-3.46">SR</tspan></text>
<circle cx="554.2" cy="33.65" r="3.6" fill="#c472da" stroke="#222" stroke-width="0.8"/>
<text x="560.4" y="36.85" font-size="9.6"><tspan font-style="italic">Gsdme</tspan><tspan font-size="5.76" dy="-3.46">SR</tspan><tspan dy="3.46">+D+Q</tspan></text>
<rect x="570" y="163.28" width="12" height="10.12" fill="#f07272" stroke="#000" stroke-width="1.0" />
<line x1="576" y1="165.02" x2="576" y2="161.55" stroke="#000" stroke-width="1.1" />
<line x1="573" y1="161.55" x2="579" y2="161.55" stroke="#000" stroke-width="1.1" />
<line x1="573" y1="165.02" x2="579" y2="165.02" stroke="#000" stroke-width="1.1" />
<circle cx="573" cy="160.4" r="2.45" fill="#fff" stroke="#000" stroke-width="1.1"/>
<circle cx="576" cy="166.18" r="2.45" fill="#fff" stroke="#000" stroke-width="1.1"/>
<circle cx="580" cy="161.84" r="2.45" fill="#fff" stroke="#000" stroke-width="1.1"/>
<circle cx="572" cy="167.62" r="2.45" fill="#fff" stroke="#000" stroke-width="1.1"/>
<circle cx="578" cy="164.73" r="2.45" fill="#fff" stroke="#000" stroke-width="1.1"/>
<circle cx="580.5" cy="160.4" r="2.45" fill="#fff" stroke="#000" stroke-width="1.1"/>
<rect x="588" y="164.01" width="12" height="9.39" fill="#5283f0" stroke="#000" stroke-width="1.0" />
<line x1="594" y1="165.74" x2="594" y2="162.27" stroke="#000" stroke-width="1.1" />
<line x1="591" y1="162.27" x2="597" y2="162.27" stroke="#000" stroke-width="1.1" />
<line x1="591" y1="165.74" x2="597" y2="165.74" stroke="#000" stroke-width="1.1" />
<circle cx="591" cy="160.4" r="2.45" fill="#fff" stroke="#000" stroke-width="1.1"/>
<circle cx="595" cy="158.95" r="2.45" fill="#fff" stroke="#000" stroke-width="1.1"/>
<circle cx="598.5" cy="164.73" r="2.45" fill="#fff" stroke="#000" stroke-width="1.1"/>
<circle cx="590" cy="167.62" r="2.45" fill="#fff" stroke="#000" stroke-width="1.1"/>
<circle cx="594" cy="163.28" r="2.45" fill="#fff" stroke="#000" stroke-width="1.1"/>
<circle cx="597.5" cy="166.18" r="2.45" fill="#fff" stroke="#000" stroke-width="1.1"/>
<rect x="606.2" y="96.09" width="11.3" height="77.31" fill="#278a27" stroke="#000" stroke-width="1.0" />
<line x1="611.85" y1="99.7" x2="611.85" y2="92.48" stroke="#000" stroke-width="1.1" />
<line x1="608.85" y1="92.48" x2="614.85" y2="92.48" stroke="#000" stroke-width="1.1" />
<line x1="608.85" y1="99.7" x2="614.85" y2="99.7" stroke="#000" stroke-width="1.1" />
<circle cx="608.85" cy="88.14" r="2.45" fill="#fff" stroke="#000" stroke-width="1.1"/>
<circle cx="614.85" cy="83.81" r="2.45" fill="#fff" stroke="#000" stroke-width="1.1"/>
<circle cx="610.85" cy="92.48" r="2.45" fill="#fff" stroke="#000" stroke-width="1.1"/>
<circle cx="615.85" cy="101.15" r="2.45" fill="#fff" stroke="#000" stroke-width="1.1"/>
<circle cx="607.85" cy="98.26" r="2.45" fill="#fff" stroke="#000" stroke-width="1.1"/>
<circle cx="611.85" cy="106.93" r="2.45" fill="#fff" stroke="#000" stroke-width="1.1"/>
<rect x="624" y="132.22" width="11.6" height="41.18" fill="#c472da" stroke="#000" stroke-width="1.0" />
<line x1="629.8" y1="136.55" x2="629.8" y2="127.88" stroke="#000" stroke-width="1.1" />
<line x1="626.8" y1="127.88" x2="632.8" y2="127.88" stroke="#000" stroke-width="1.1" />
<line x1="626.8" y1="136.55" x2="632.8" y2="136.55" stroke="#000" stroke-width="1.1" />
<circle cx="626.8" cy="117.05" r="2.45" fill="#fff" stroke="#000" stroke-width="1.1"/>
<circle cx="629.8" cy="121.38" r="2.45" fill="#fff" stroke="#000" stroke-width="1.1"/>
<circle cx="625.8" cy="137.28" r="2.45" fill="#fff" stroke="#000" stroke-width="1.1"/>
<circle cx="632.8" cy="141.61" r="2.45" fill="#fff" stroke="#000" stroke-width="1.1"/>
<circle cx="634.3" cy="134.38" r="2.45" fill="#fff" stroke="#000" stroke-width="1.1"/>
<circle cx="627.8" cy="141.61" r="2.45" fill="#fff" stroke="#000" stroke-width="1.1"/>
<line x1="564" y1="57.3" x2="564" y2="173.9" stroke="#111" stroke-width="1.2" />
<line x1="563.4" y1="173.4" x2="640.4" y2="173.4" stroke="#111" stroke-width="1.2" />
<line x1="560.5" y1="173.4" x2="564" y2="173.4" stroke="#111" stroke-width="1.1" />
<text x="559" y="177" font-size="10" text-anchor="end" fill="#111" >0</text>
<line x1="560.5" y1="144.5" x2="564" y2="144.5" stroke="#111" stroke-width="1.1" />
<text x="559" y="148.1" font-size="10" text-anchor="end" fill="#111" >20</text>
<line x1="560.5" y1="115.6" x2="564" y2="115.6" stroke="#111" stroke-width="1.1" />
<text x="559" y="119.2" font-size="10" text-anchor="end" fill="#111" >40</text>
<line x1="560.5" y1="86.7" x2="564" y2="86.7" stroke="#111" stroke-width="1.1" />
<text x="559" y="90.3" font-size="10" text-anchor="end" fill="#111" >60</text>
<line x1="560.5" y1="57.8" x2="564" y2="57.8" stroke="#111" stroke-width="1.1" />
<text x="559" y="61.4" font-size="10" text-anchor="end" fill="#111" >80</text>
<line x1="576" y1="173.4" x2="576" y2="176.9" stroke="#111" stroke-width="1.1" />
<line x1="594" y1="173.4" x2="594" y2="176.9" stroke="#111" stroke-width="1.1" />
<line x1="611.85" y1="173.4" x2="611.85" y2="176.9" stroke="#111" stroke-width="1.1" />
<line x1="629.8" y1="173.4" x2="629.8" y2="176.9" stroke="#111" stroke-width="1.1" />
<line x1="609.6" y1="72.3" x2="632.7" y2="72.3" stroke="#000" stroke-width="1.2" />
<text x="623.6" y="67.2" font-size="9.5" text-anchor="middle">P=8.709×10<tspan font-size="5.7" dy="-3.8">-5</tspan></text>
<text x="540.4" y="113.8" font-size="10.8" text-anchor="middle" transform="rotate(-90 540.4 113.8)">p16<tspan font-size="5.8" dy="-3.5">+</tspan><tspan dy="3.5"> cells %</tspan></text>
<text x="-0.3" y="235.3" font-size="18.8" font-weight="bold" >C</text>
<text x="105" y="222.3" font-size="9.8" text-anchor="middle">P-AAA lesion a-SMA<tspan font-size="5.8" dy="-3.5">+</tspan><tspan dy="3.5"> cells</tspan></text>
<line x1="11.5" y1="248" x2="11.5" y2="357" stroke="#000" stroke-width="1.1" />
<path d="M11.5,242.5 L8.7,250 L14.3,250 Z" fill="#000"/>
<text x="15.8" y="376.3" font-size="11" text-anchor="middle" transform="rotate(-90 15.8 376.3)" >SSC-A</text>
<text x="27.5" y="412.8" font-size="10.5" >p21-Pe</text>
<line x1="65" y1="410.2" x2="177" y2="410.2" stroke="#000" stroke-width="1.1" />
<path d="M184.5,410.2 L176.5,407.4 L176.5,413 Z" fill="#000"/>
<rect x="21" y="229.3" width="80.6" height="80.8" fill="#fff" stroke="#333" stroke-width="1.0" />
<g clip-path="url(#c21_229)"><g filter="url(#jet)"><rect x="21" y="229.3" width="80.6" height="80.8" fill="#fff" fill-opacity="0"/><ellipse cx="57" cy="265" rx="12.5" ry="19" fill="url(#rg0)"/><ellipse cx="78.5" cy="267" rx="11" ry="12.5" fill="url(#rg10)"/><ellipse cx="68" cy="264" rx="5" ry="12" fill="url(#rg11)"/></g></g>
<rect x="69.6" y="236.9" width="31.7" height="47.6" fill="none" stroke="#111" stroke-width="0.9" stroke-dasharray="2.2 1.6"/>
<line x1="21" y1="239" x2="22.5" y2="239" stroke="#333" stroke-width="0.6" />
<line x1="29.06" y1="310.1" x2="29.06" y2="308.6" stroke="#333" stroke-width="0.6" />
<line x1="21" y1="255.16" x2="22.5" y2="255.16" stroke="#333" stroke-width="0.6" />
<line x1="45.18" y1="310.1" x2="45.18" y2="308.6" stroke="#333" stroke-width="0.6" />
<line x1="21" y1="271.32" x2="22.5" y2="271.32" stroke="#333" stroke-width="0.6" />
<line x1="61.3" y1="310.1" x2="61.3" y2="308.6" stroke="#333" stroke-width="0.6" />
<line x1="21" y1="287.48" x2="22.5" y2="287.48" stroke="#333" stroke-width="0.6" />
<line x1="77.42" y1="310.1" x2="77.42" y2="308.6" stroke="#333" stroke-width="0.6" />
<line x1="21" y1="303.64" x2="22.5" y2="303.64" stroke="#333" stroke-width="0.6" />
<line x1="93.54" y1="310.1" x2="93.54" y2="308.6" stroke="#333" stroke-width="0.6" />
<rect x="20.4" y="268.7" width="1.6" height="2" fill="#111"/>
<text x="60.3" y="303.1" font-size="8.3" text-anchor="middle"><tspan font-style="italic">Gsdme</tspan><tspan font-size="4.98" dy="-2.99">Stop/Stop</tspan></text>
<rect x="105.9" y="229.3" width="80.6" height="80.8" fill="#fff" stroke="#333" stroke-width="1.0" />
<g clip-path="url(#c105_229)"><g filter="url(#jet)"><rect x="105.9" y="229.3" width="80.6" height="80.8" fill="#fff" fill-opacity="0"/><ellipse cx="140.5" cy="267" rx="14" ry="15.5" fill="url(#rg0)"/><ellipse cx="158" cy="269" rx="8" ry="11" fill="url(#rg3)"/><ellipse cx="107.5" cy="277.6" rx="1.5" ry="1.5" fill="url(#rg3)"/></g></g>
<rect x="154.6" y="236.9" width="31.7" height="47.6" fill="none" stroke="#111" stroke-width="0.9" stroke-dasharray="2.2 1.6"/>
<line x1="105.9" y1="239" x2="107.4" y2="239" stroke="#333" stroke-width="0.6" />
<line x1="113.96" y1="310.1" x2="113.96" y2="308.6" stroke="#333" stroke-width="0.6" />
<line x1="105.9" y1="255.16" x2="107.4" y2="255.16" stroke="#333" stroke-width="0.6" />
<line x1="130.08" y1="310.1" x2="130.08" y2="308.6" stroke="#333" stroke-width="0.6" />
<line x1="105.9" y1="271.32" x2="107.4" y2="271.32" stroke="#333" stroke-width="0.6" />
<line x1="146.2" y1="310.1" x2="146.2" y2="308.6" stroke="#333" stroke-width="0.6" />
<line x1="105.9" y1="287.48" x2="107.4" y2="287.48" stroke="#333" stroke-width="0.6" />
<line x1="162.32" y1="310.1" x2="162.32" y2="308.6" stroke="#333" stroke-width="0.6" />
<line x1="105.9" y1="303.64" x2="107.4" y2="303.64" stroke="#333" stroke-width="0.6" />
<line x1="178.44" y1="310.1" x2="178.44" y2="308.6" stroke="#333" stroke-width="0.6" />
<rect x="105.3" y="268.7" width="1.6" height="2" fill="#111"/>
<text x="144.1" y="303.1" font-size="8.3" text-anchor="middle"><tspan font-style="italic">Gsdme</tspan><tspan font-size="4.98" dy="-2.99">Stop/Stop</tspan><tspan dy="2.99">+D+Q</tspan></text>
<rect x="21" y="315.9" width="80.6" height="80.8" fill="#fff" stroke="#333" stroke-width="1.0" />
<g clip-path="url(#c21_315)"><g filter="url(#jet)"><rect x="21" y="315.9" width="80.6" height="80.8" fill="#fff" fill-opacity="0"/><ellipse cx="54" cy="349.5" rx="15" ry="14.5" fill="url(#rg12)"/><ellipse cx="49" cy="343" rx="7" ry="6" fill="url(#rg13)"/><ellipse cx="81.5" cy="345.5" rx="11.5" ry="19" fill="url(#rg14)"/><ellipse cx="80.5" cy="352" rx="5.5" ry="8.5" fill="url(#rg0)"/><ellipse cx="69" cy="350" rx="5" ry="12" fill="url(#rg11)"/></g></g>
<rect x="69.6" y="323.7" width="31.7" height="47.6" fill="none" stroke="#111" stroke-width="0.9" stroke-dasharray="2.2 1.6"/>
<line x1="21" y1="325.6" x2="22.5" y2="325.6" stroke="#333" stroke-width="0.6" />
<line x1="29.06" y1="396.7" x2="29.06" y2="395.2" stroke="#333" stroke-width="0.6" />
<line x1="21" y1="341.76" x2="22.5" y2="341.76" stroke="#333" stroke-width="0.6" />
<line x1="45.18" y1="396.7" x2="45.18" y2="395.2" stroke="#333" stroke-width="0.6" />
<line x1="21" y1="357.92" x2="22.5" y2="357.92" stroke="#333" stroke-width="0.6" />
<line x1="61.3" y1="396.7" x2="61.3" y2="395.2" stroke="#333" stroke-width="0.6" />
<line x1="21" y1="374.08" x2="22.5" y2="374.08" stroke="#333" stroke-width="0.6" />
<line x1="77.42" y1="396.7" x2="77.42" y2="395.2" stroke="#333" stroke-width="0.6" />
<line x1="21" y1="390.24" x2="22.5" y2="390.24" stroke="#333" stroke-width="0.6" />
<line x1="93.54" y1="396.7" x2="93.54" y2="395.2" stroke="#333" stroke-width="0.6" />
<rect x="20.4" y="355.3" width="1.6" height="2" fill="#111"/>
<text x="56.6" y="389.7" font-size="8.3" text-anchor="middle"><tspan font-style="italic">Gsdme</tspan><tspan font-size="4.98" dy="-2.99">SR</tspan></text>
<rect x="105.9" y="315.9" width="80.6" height="80.8" fill="#fff" stroke="#333" stroke-width="1.0" />
<g clip-path="url(#c105_315)"><g filter="url(#jet)"><rect x="105.9" y="315.9" width="80.6" height="80.8" fill="#fff" fill-opacity="0"/><ellipse cx="133" cy="338" rx="13" ry="19" fill="url(#rg0)"/><ellipse cx="120" cy="340" rx="5" ry="6" fill="url(#rg2)"/><ellipse cx="163" cy="337" rx="9.5" ry="17.5" fill="url(#rg15)"/><ellipse cx="162" cy="343" rx="5" ry="6" fill="url(#rg8)"/><ellipse cx="149" cy="335" rx="6" ry="9" fill="url(#rg9)"/></g></g>
<rect x="154.6" y="323.7" width="31" height="47.6" fill="none" stroke="#111" stroke-width="0.9" stroke-dasharray="2.2 1.6"/>
<line x1="105.9" y1="325.6" x2="107.4" y2="325.6" stroke="#333" stroke-width="0.6" />
<line x1="113.96" y1="396.7" x2="113.96" y2="395.2" stroke="#333" stroke-width="0.6" />
<line x1="105.9" y1="341.76" x2="107.4" y2="341.76" stroke="#333" stroke-width="0.6" />
<line x1="130.08" y1="396.7" x2="130.08" y2="395.2" stroke="#333" stroke-width="0.6" />
<line x1="105.9" y1="357.92" x2="107.4" y2="357.92" stroke="#333" stroke-width="0.6" />
<line x1="146.2" y1="396.7" x2="146.2" y2="395.2" stroke="#333" stroke-width="0.6" />
<line x1="105.9" y1="374.08" x2="107.4" y2="374.08" stroke="#333" stroke-width="0.6" />
<line x1="162.32" y1="396.7" x2="162.32" y2="395.2" stroke="#333" stroke-width="0.6" />
<line x1="105.9" y1="390.24" x2="107.4" y2="390.24" stroke="#333" stroke-width="0.6" />
<line x1="178.44" y1="396.7" x2="178.44" y2="395.2" stroke="#333" stroke-width="0.6" />
<rect x="105.3" y="355.3" width="1.6" height="2" fill="#111"/>
<text x="141.3" y="389.7" font-size="8.3" text-anchor="middle"><tspan font-style="italic">Gsdme</tspan><tspan font-size="4.98" dy="-2.99">SR</tspan><tspan dy="2.99">+D+Q</tspan></text>
<circle cx="221.5" cy="221.2" r="3.6" fill="#f07272" stroke="#222" stroke-width="0.8"/>
<text x="227.7" y="224.4" font-size="9.8"><tspan font-style="italic">Gsdme</tspan><tspan font-size="5.88" dy="-3.53">Stop/Stop</tspan></text>
<circle cx="221.5" cy="231.2" r="3.6" fill="#5283f0" stroke="#222" stroke-width="0.8"/>
<text x="227.7" y="234.4" font-size="9.8"><tspan font-style="italic">Gsdme</tspan><tspan font-size="5.88" dy="-3.53">Stop/Stop</tspan><tspan dy="3.53">+D+Q</tspan></text>
<circle cx="221.5" cy="241.2" r="3.6" fill="#278a27" stroke="#222" stroke-width="0.8"/>
<text x="227.7" y="244.4" font-size="9.8"><tspan font-style="italic">Gsdme</tspan><tspan font-size="5.88" dy="-3.53">SR</tspan></text>
<circle cx="221.5" cy="251.2" r="3.6" fill="#c472da" stroke="#222" stroke-width="0.8"/>
<text x="227.7" y="254.4" font-size="9.8"><tspan font-style="italic">Gsdme</tspan><tspan font-size="5.88" dy="-3.53">SR</tspan><tspan dy="3.53">+D+Q</tspan></text>
<rect x="239.8" y="386.06" width="10.9" height="4.34" fill="#f07272" stroke="#000" stroke-width="1.0" />
<line x1="245.25" y1="387.22" x2="245.25" y2="384.9" stroke="#000" stroke-width="1.1" />
<line x1="242.25" y1="384.9" x2="248.25" y2="384.9" stroke="#000" stroke-width="1.1" />
<line x1="242.25" y1="387.22" x2="248.25" y2="387.22" stroke="#000" stroke-width="1.1" />
<circle cx="242.25" cy="384.61" r="2.45" fill="#fff" stroke="#000" stroke-width="1.1"/>
<circle cx="245.25" cy="388.95" r="2.45" fill="#fff" stroke="#000" stroke-width="1.1"/>
<circle cx="248.25" cy="384.61" r="2.45" fill="#fff" stroke="#000" stroke-width="1.1"/>
<circle cx="241.25" cy="387.5" r="2.45" fill="#fff" stroke="#000" stroke-width="1.1"/>
<circle cx="247.25" cy="388.23" r="2.45" fill="#fff" stroke="#000" stroke-width="1.1"/>
<circle cx="249.25" cy="383.16" r="2.45" fill="#fff" stroke="#000" stroke-width="1.1"/>
<rect x="257.5" y="386.06" width="11.4" height="4.34" fill="#5283f0" stroke="#000" stroke-width="1.0" />
<line x1="263.2" y1="387.22" x2="263.2" y2="384.9" stroke="#000" stroke-width="1.1" />
<line x1="260.2" y1="384.9" x2="266.2" y2="384.9" stroke="#000" stroke-width="1.1" />
<line x1="260.2" y1="387.22" x2="266.2" y2="387.22" stroke="#000" stroke-width="1.1" />
<circle cx="260.2" cy="384.61" r="2.45" fill="#fff" stroke="#000" stroke-width="1.1"/>
<circle cx="263.2" cy="383.16" r="2.45" fill="#fff" stroke="#000" stroke-width="1.1"/>
<circle cx="266.2" cy="386.06" r="2.45" fill="#fff" stroke="#000" stroke-width="1.1"/>
<circle cx="259.2" cy="387.5" r="2.45" fill="#fff" stroke="#000" stroke-width="1.1"/>
<circle cx="264.2" cy="384.61" r="2.45" fill="#fff" stroke="#000" stroke-width="1.1"/>
<circle cx="267.2" cy="387.5" r="2.45" fill="#fff" stroke="#000" stroke-width="1.1"/>
<rect x="275.4" y="312.96" width="11.7" height="77.44" fill="#278a27" stroke="#000" stroke-width="1.0" />
<line x1="281.25" y1="317.3" x2="281.25" y2="308.62" stroke="#000" stroke-width="1.1" />
<line x1="278.25" y1="308.62" x2="284.25" y2="308.62" stroke="#000" stroke-width="1.1" />
<line x1="278.25" y1="317.3" x2="284.25" y2="317.3" stroke="#000" stroke-width="1.1" />
<circle cx="280.25" cy="297.76" r="2.45" fill="#fff" stroke="#000" stroke-width="1.1"/>
<circle cx="281.25" cy="302.1" r="2.45" fill="#fff" stroke="#000" stroke-width="1.1"/>
<circle cx="278.25" cy="315.13" r="2.45" fill="#fff" stroke="#000" stroke-width="1.1"/>
<circle cx="285.25" cy="319.47" r="2.45" fill="#fff" stroke="#000" stroke-width="1.1"/>
<circle cx="277.25" cy="323.81" r="2.45" fill="#fff" stroke="#000" stroke-width="1.1"/>
<circle cx="284.25" cy="312.24" r="2.45" fill="#fff" stroke="#000" stroke-width="1.1"/>
<rect x="293.2" y="346.98" width="11.4" height="43.42" fill="#c472da" stroke="#000" stroke-width="1.0" />
<line x1="298.9" y1="352.04" x2="298.9" y2="341.91" stroke="#000" stroke-width="1.1" />
<line x1="295.9" y1="341.91" x2="301.9" y2="341.91" stroke="#000" stroke-width="1.1" />
<line x1="295.9" y1="352.04" x2="301.9" y2="352.04" stroke="#000" stroke-width="1.1" />
<circle cx="295.9" cy="339.74" r="2.45" fill="#fff" stroke="#000" stroke-width="1.1"/>
<circle cx="301.9" cy="335.39" r="2.45" fill="#fff" stroke="#000" stroke-width="1.1"/>
<circle cx="298.9" cy="344.08" r="2.45" fill="#fff" stroke="#000" stroke-width="1.1"/>
<circle cx="295.9" cy="357.11" r="2.45" fill="#fff" stroke="#000" stroke-width="1.1"/>
<circle cx="300.9" cy="351.32" r="2.45" fill="#fff" stroke="#000" stroke-width="1.1"/>
<circle cx="298.9" cy="361.45" r="2.45" fill="#fff" stroke="#000" stroke-width="1.1"/>
<line x1="233.2" y1="274.1" x2="233.2" y2="390.9" stroke="#111" stroke-width="1.2" />
<line x1="232.6" y1="390.4" x2="310.9" y2="390.4" stroke="#111" stroke-width="1.2" />
<line x1="229.7" y1="390.4" x2="233.2" y2="390.4" stroke="#111" stroke-width="1.1" />
<text x="228.2" y="394" font-size="10" text-anchor="end" fill="#111" >0</text>
<line x1="229.7" y1="361.45" x2="233.2" y2="361.45" stroke="#111" stroke-width="1.1" />
<text x="228.2" y="365.05" font-size="10" text-anchor="end" fill="#111" >20</text>
<line x1="229.7" y1="332.5" x2="233.2" y2="332.5" stroke="#111" stroke-width="1.1" />
<text x="228.2" y="336.1" font-size="10" text-anchor="end" fill="#111" >40</text>
<line x1="229.7" y1="303.55" x2="233.2" y2="303.55" stroke="#111" stroke-width="1.1" />
<text x="228.2" y="307.15" font-size="10" text-anchor="end" fill="#111" >60</text>
<line x1="229.7" y1="274.6" x2="233.2" y2="274.6" stroke="#111" stroke-width="1.1" />
<text x="228.2" y="278.2" font-size="10" text-anchor="end" fill="#111" >80</text>
<line x1="245.25" y1="390.4" x2="245.25" y2="393.9" stroke="#111" stroke-width="1.1" />
<line x1="263.2" y1="390.4" x2="263.2" y2="393.9" stroke="#111" stroke-width="1.1" />
<line x1="281.25" y1="390.4" x2="281.25" y2="393.9" stroke="#111" stroke-width="1.1" />
<line x1="298.9" y1="390.4" x2="298.9" y2="393.9" stroke="#111" stroke-width="1.1" />
<line x1="279.3" y1="289.7" x2="302.4" y2="289.7" stroke="#000" stroke-width="1.2" />
<text x="295.6" y="285.2" font-size="9.5" text-anchor="middle">P=1.420×10<tspan font-size="5.7" dy="-3.8">-4</tspan></text>
<text x="211.2" y="334" font-size="10.8" text-anchor="middle" transform="rotate(-90 211.2 334)">p21<tspan font-size="5.8" dy="-3.5">+</tspan><tspan dy="3.5"> cells %</tspan></text>
<text x="371.5" y="235.5" font-size="18.8" font-weight="bold" >D</text>
<text x="533" y="215.3" font-size="10.5" text-anchor="middle" >P-AAA</text>
<line x1="418" y1="219" x2="646" y2="219" stroke="#000" stroke-width="1.1" />
<text x="464.5" y="233.2" font-size="10" text-anchor="middle"><tspan font-style="italic">Gsdme</tspan><tspan font-size="6" dy="-3.6">Stop/Stop</tspan></text>
<text x="599" y="233.2" font-size="10" text-anchor="middle"><tspan font-style="italic">Gsdme</tspan><tspan font-size="6" dy="-3.6">SR</tspan></text>
<line x1="418" y1="238.3" x2="519" y2="238.3" stroke="#000" stroke-width="1.1" />
<line x1="549" y1="238.3" x2="649.7" y2="238.3" stroke="#000" stroke-width="1.1" />
<text x="390.2" y="253.5" font-size="10.7" >D+Q</text>
<text x="438" y="253.4" font-size="9" text-anchor="middle" >–</text>
<text x="500" y="253.4" font-size="9" text-anchor="middle" >+</text>
<text x="566.6" y="253.4" font-size="9" text-anchor="middle" >–</text>
<text x="629.6" y="253.4" font-size="9" text-anchor="middle" >+</text>
<rect x="409.2" y="260.4" width="60.3" height="148" fill="url(#dbg0)" filter="url(#gnoise)"/>
<rect x="409.2" y="260.4" width="60.3" height="148" fill="none" stroke="#1e1e1e" stroke-width="1.2" />
<rect x="473.3" y="260.4" width="59.5" height="148" fill="url(#dbg1)" filter="url(#gnoise)"/>
<rect x="473.3" y="260.4" width="59.5" height="148" fill="none" stroke="#1e1e1e" stroke-width="1.2" />
<rect x="536.3" y="260.4" width="59.7" height="148" fill="url(#dbg2)" filter="url(#gnoise)"/>
<rect x="536.3" y="260.4" width="59.7" height="148" fill="none" stroke="#1e1e1e" stroke-width="1.2" />
<rect x="599.4" y="260.4" width="60.1" height="148" fill="url(#dbg3)" filter="url(#gnoise)"/>
<rect x="599.4" y="260.4" width="60.1" height="148" fill="none" stroke="#1e1e1e" stroke-width="1.2" />
<path d="M433,271 C438,268 440,268 442,270 C442.5,300 442,330 442.5,352" fill="none" stroke="#bdbcc2" stroke-width="2.5" stroke-linecap="round" stroke-linejoin="round"/>
<path d="M442,268 L446,266 M442,268 L445,272 M441,268 L444,264" fill="none" stroke="#bdbcc2" stroke-width="1.2" stroke-linecap="round" stroke-linejoin="round"/>
<ellipse cx="424" cy="273.2" rx="11.5" ry="7.6" fill="url(#heart)" transform="rotate(-5 424 273.2)"/>
<path d="M442.5,351 C446,356 446.5,366 445,374 C444,378 441,379 440,376 C439,368 439.5,358 442.5,351 Z" fill="url(#bulge)"/>
<path d="M441.5,378 L438,385 M442.5,378 L446,385" fill="none" stroke="#bdbcc2" stroke-width="1.1" stroke-linecap="round" stroke-linejoin="round"/>
<path d="M436,340 L442,340" fill="none" stroke="#bdbcc2" stroke-width="1.0" stroke-linecap="round" stroke-linejoin="round"/>
<path d="M497,272 C502,268 505,270 507.5,274 C509,300 509,330 509,350" fill="none" stroke="#bdbcc2" stroke-width="2.5" stroke-linecap="round" stroke-linejoin="round"/>
<path d="M505,270 L509,266 M505,270 L510,270 M504,269 L506,264" fill="none" stroke="#bdbcc2" stroke-width="1.2" stroke-linecap="round" stroke-linejoin="round"/>
<ellipse cx="489.5" cy="277.8" rx="9.6" ry="11.8" fill="url(#heart)" transform="rotate(15 489.5 277.8)"/>
<path d="M508.5,349 C512,354 512.5,364 511,372 C510,376 507.5,377 506.5,374 C505,366 505.5,356 508.5,349 Z" fill="url(#bulge)"/>
<path d="M508.5,376 L508,386" fill="none" stroke="#bdbcc2" stroke-width="1.1" stroke-linecap="round" stroke-linejoin="round"/>
<ellipse cx="548" cy="272" rx="8" ry="6" fill="#1a1a1a"/>
<path d="M558,270 C563,268 566,272 567,280 C569,300 569.5,325 568.5,346" fill="none" stroke="#bdbcc2" stroke-width="2.5" stroke-linecap="round" stroke-linejoin="round"/>
<path d="M561,268 L563,265 M561,268 L566,266 M561,269 L566,271" fill="none" stroke="#bdbcc2" stroke-width="1.2" stroke-linecap="round" stroke-linejoin="round"/>
<ellipse cx="553.6" cy="279.6" rx="9" ry="11.2" fill="url(#heart)" transform="rotate(10 553.6 279.6)"/>
<path d="M567,347 C572,353 574.5,365 572,376 C570,383 566,387 562,384 C559.5,378 560,362 567,347 Z" fill="url(#bulge)"/>
<path d="M563,385 L558,393 M564,385 L569,392" fill="none" stroke="#bdbcc2" stroke-width="1.1" stroke-linecap="round" stroke-linejoin="round"/>
<path d="M562,345 L566,345" fill="none" stroke="#bdbcc2" stroke-width="1.0" stroke-linecap="round" stroke-linejoin="round"/>
<path d="M621,273 C626,270 629,270 630.5,273 C631,300 630.5,330 630.5,355" fill="none" stroke="#bdbcc2" stroke-width="2.5" stroke-linecap="round" stroke-linejoin="round"/>
<path d="M628,270 L629,264 M628,270 L633,266 M628,271 L634,272 M627,270 L624,266" fill="none" stroke="#bdbcc2" stroke-width="1.3" stroke-linecap="round" stroke-linejoin="round"/>
<ellipse cx="614.7" cy="273.7" rx="10.5" ry="8" fill="url(#heart)" transform="rotate(0 614.7 273.7)"/>
<path d="M630.5,354 C634.5,358 636.5,368 635,377 C634,383 631,388 628.5,385 C626,378 626,364 630.5,354 Z" fill="url(#bulge)"/>
<path d="M629,386 L625,392 M630,386 L634,391" fill="none" stroke="#bdbcc2" stroke-width="1.1" stroke-linecap="round" stroke-linejoin="round"/>
<path d="M623,341 L630,341" fill="none" stroke="#bdbcc2" stroke-width="1.0" stroke-linecap="round" stroke-linejoin="round"/>
<text x="-0.5" y="443.4" font-size="18.8" font-weight="bold" >E</text>
<circle cx="30" cy="437.5" r="4.3" fill="#7a5608" stroke="#000" stroke-width="0.9"/>
<text x="36.5" y="440.8" font-size="9" textLength="86.1" lengthAdjust="spacingAndGlyphs" >Large-P-AAA (>4 mm)</text>
<circle cx="139.6" cy="437.5" r="4.3" fill="#d5b435" stroke="#000" stroke-width="0.9"/>
<text x="147.4" y="440.8" font-size="9" textLength="87.1" lengthAdjust="spacingAndGlyphs" >Middle-P-AAA (3-4 mm)</text>
<circle cx="259.4" cy="437.5" r="4.3" fill="#fcefaa" stroke="#000" stroke-width="0.9"/>
<text x="267.6" y="440.8" font-size="9" textLength="85.4" lengthAdjust="spacingAndGlyphs" >Small-P-AAA (<3 mm)</text>
<text x="72.4" y="458.6" font-size="8.8" >Large P-AAA incidence, P=1.5×10<tspan font-size="5.5" dy="-3.4">-14</tspan></text>
<text x="219.4" y="458.6" font-size="8.8" >Large P-AAA incidence, P=6.0×10<tspan font-size="5.5" dy="-3.4">-10</tspan></text>
<path d="M50.2,472.5 L50.2,464.4 L226.7,464.4 L226.7,472.5" fill="none" stroke="#555" stroke-width="1.1"/>
<path d="M234.3,472.5 L234.3,464.4 L317.2,464.4 L317.2,472.5" fill="none" stroke="#555" stroke-width="1.1"/>
<path d="M54,519.5 L54,479.7 A39.8,39.8 0 0 1 63.9,480.95 Z" fill="#7a5608" stroke="#7a5608" stroke-width="0.3"/>
<path d="M54,519.5 L63.9,480.95 A39.8,39.8 0 0 1 54,559.3 Z" fill="#d5b435" stroke="#d5b435" stroke-width="0.3"/>
<path d="M54,519.5 L54,559.3 A39.8,39.8 0 0 1 54,479.7 Z" fill="#fcefaa" stroke="#fcefaa" stroke-width="0.3"/>
<circle cx="54" cy="519.5" r="39.8" fill="none" stroke="#000" stroke-width="1.3"/>
<path d="M144,519.5 L144,479.7 A39.8,39.8 0 0 1 149.19,480.04 Z" fill="#7a5608" stroke="#7a5608" stroke-width="0.3"/>
<path d="M144,519.5 L149.19,480.04 A39.8,39.8 0 0 1 168.23,551.08 Z" fill="#d5b435" stroke="#d5b435" stroke-width="0.3"/>
<path d="M144,519.5 L168.23,551.08 A39.8,39.8 0 1 1 144,479.7 Z" fill="#fcefaa" stroke="#fcefaa" stroke-width="0.3"/>
<circle cx="144" cy="519.5" r="39.8" fill="none" stroke="#000" stroke-width="1.3"/>
<path d="M232.2,519.7 L232.2,479.9 A39.8,39.8 0 1 1 195.06,505.4 Z" fill="#7a5608" stroke="#7a5608" stroke-width="0.3"/>
<path d="M232.2,519.7 L195.06,505.4 A39.8,39.8 0 0 1 226.9,480.26 Z" fill="#d5b435" stroke="#d5b435" stroke-width="0.3"/>
<path d="M232.2,519.7 L226.9,480.26 A39.8,39.8 0 0 1 232.2,479.9 Z" fill="#fcefaa" stroke="#fcefaa" stroke-width="0.3"/>
<circle cx="232.2" cy="519.7" r="39.8" fill="none" stroke="#000" stroke-width="1.3"/>
<path d="M321.2,519.6 L321.2,479.8 A39.8,39.8 0 0 1 356.1,500.47 Z" fill="#7a5608" stroke="#7a5608" stroke-width="0.3"/>
<path d="M321.2,519.6 L356.1,500.47 A39.8,39.8 0 1 1 286.3,500.47 Z" fill="#d5b435" stroke="#d5b435" stroke-width="0.3"/>
<path d="M321.2,519.6 L286.3,500.47 A39.8,39.8 0 0 1 321.2,479.8 Z" fill="#fcefaa" stroke="#fcefaa" stroke-width="0.3"/>
<circle cx="321.2" cy="519.6" r="39.8" fill="none" stroke="#000" stroke-width="1.3"/>
<text x="57.7" y="493" font-size="9.5" text-anchor="middle" >2/50</text>
<text x="35.3" y="524" font-size="9.5" text-anchor="middle" >25/50</text>
<text x="74.2" y="529" font-size="9.5" text-anchor="middle" >23/50</text>
<text x="144.5" y="493" font-size="9.5" text-anchor="middle" >1/48</text>
<text x="164" y="520.5" font-size="9.5" text-anchor="middle" >18/48</text>
<text x="130" y="531.5" font-size="9.5" text-anchor="middle" >29/48</text>
<text x="230.8" y="491" font-size="9.5" text-anchor="middle" >1/47</text>
<text x="216" y="504.5" font-size="9.5" text-anchor="middle" >8/47</text>
<text x="235.5" y="539.5" font-size="9.5" text-anchor="middle" >38/47</text>
<text x="307.9" y="502.7" font-size="9.5" text-anchor="middle" >8/47</text>
<text x="333.3" y="502.7" font-size="9.5" text-anchor="middle" >8/47</text>
<text x="322.5" y="541.5" font-size="9.5" text-anchor="middle" >31/47</text>
<text x="57.8" y="573" font-size="10" text-anchor="middle"><tspan font-style="italic">Gsdme</tspan><tspan font-size="6" dy="-3.6">Stop/Stop</tspan></text>
<text x="150.6" y="573" font-size="10" text-anchor="middle"><tspan font-style="italic">Gsdme</tspan><tspan font-size="6" dy="-3.6">Stop/Stop</tspan><tspan dy="3.6">+D+Q</tspan></text>
<text x="233.8" y="573" font-size="10" text-anchor="middle"><tspan font-style="italic">Gsdme</tspan><tspan font-size="6" dy="-3.6">SR</tspan></text>
<text x="324.4" y="573" font-size="10" text-anchor="middle"><tspan font-style="italic">Gsdme</tspan><tspan font-size="6" dy="-3.6">SR</tspan><tspan dy="3.6">+D+Q</tspan></text>
<circle cx="401.9" cy="442" r="3.6" fill="#f07272" stroke="#222" stroke-width="0.8"/>
<text x="408.5" y="445.2" font-size="8.6"><tspan font-style="italic">Gsdme</tspan><tspan font-size="5.16" dy="-3.1">Stop/Stop</tspan></text>
<circle cx="470.2" cy="442" r="3.6" fill="#5283f0" stroke="#222" stroke-width="0.8"/>
<text x="476.3" y="445.2" font-size="8.6"><tspan font-style="italic">Gsdme</tspan><tspan font-size="5.16" dy="-3.1">Stop/Stop</tspan><tspan dy="3.1">+D+Q</tspan></text>
<circle cx="563.5" cy="442" r="3.6" fill="#278a27" stroke="#222" stroke-width="0.8"/>
<text x="570.7" y="445.2" font-size="8.6"><tspan font-style="italic">Gsdme</tspan><tspan font-size="5.16" dy="-3.1">SR</tspan></text>
<circle cx="617" cy="442" r="3.6" fill="#c472da" stroke="#222" stroke-width="0.8"/>
<text x="624" y="445.2" font-size="8.6"><tspan font-style="italic">Gsdme</tspan><tspan font-size="5.16" dy="-3.1">SR</tspan><tspan dy="3.1">+D+Q</tspan></text>
<rect x="445.7" y="517.56" width="14.9" height="36.84" fill="#f07272" stroke="#000" stroke-width="1.0" />
<line x1="453.15" y1="520.07" x2="453.15" y2="515.06" stroke="#000" stroke-width="1.1" />
<line x1="450.15" y1="515.06" x2="456.15" y2="515.06" stroke="#000" stroke-width="1.1" />
<line x1="450.15" y1="520.07" x2="456.15" y2="520.07" stroke="#000" stroke-width="1.1" />
<circle cx="449.15" cy="516.87" r="2.45" fill="#fff" stroke="#000" stroke-width="1.1"/>
<circle cx="453.15" cy="514.09" r="2.45" fill="#fff" stroke="#000" stroke-width="1.1"/>
<circle cx="457.15" cy="509.92" r="2.45" fill="#fff" stroke="#000" stroke-width="1.1"/>
<circle cx="448.15" cy="526.6" r="2.45" fill="#fff" stroke="#000" stroke-width="1.1"/>
<circle cx="454.15" cy="522.43" r="2.45" fill="#fff" stroke="#000" stroke-width="1.1"/>
<circle cx="458.15" cy="521.04" r="2.45" fill="#fff" stroke="#000" stroke-width="1.1"/>
<rect x="465.4" y="517.56" width="14.9" height="36.84" fill="#5283f0" stroke="#000" stroke-width="1.0" />
<line x1="472.85" y1="519.65" x2="472.85" y2="515.48" stroke="#000" stroke-width="1.1" />
<line x1="469.85" y1="515.48" x2="475.85" y2="515.48" stroke="#000" stroke-width="1.1" />
<line x1="469.85" y1="519.65" x2="475.85" y2="519.65" stroke="#000" stroke-width="1.1" />
<circle cx="468.85" cy="513.39" r="2.45" fill="#fff" stroke="#000" stroke-width="1.1"/>
<circle cx="472.85" cy="511.31" r="2.45" fill="#fff" stroke="#000" stroke-width="1.1"/>
<circle cx="476.85" cy="516.87" r="2.45" fill="#fff" stroke="#000" stroke-width="1.1"/>
<circle cx="467.85" cy="523.82" r="2.45" fill="#fff" stroke="#000" stroke-width="1.1"/>
<circle cx="473.85" cy="521.04" r="2.45" fill="#fff" stroke="#000" stroke-width="1.1"/>
<circle cx="477.85" cy="523.12" r="2.45" fill="#fff" stroke="#000" stroke-width="1.1"/>
<rect x="485.5" y="491.85" width="14.9" height="62.55" fill="#278a27" stroke="#000" stroke-width="1.0" />
<line x1="492.95" y1="493.94" x2="492.95" y2="489.76" stroke="#000" stroke-width="1.1" />
<line x1="489.95" y1="489.76" x2="495.95" y2="489.76" stroke="#000" stroke-width="1.1" />
<line x1="489.95" y1="493.94" x2="495.95" y2="493.94" stroke="#000" stroke-width="1.1" />
<circle cx="488.95" cy="486.29" r="2.45" fill="#fff" stroke="#000" stroke-width="1.1"/>
<circle cx="496.95" cy="487.68" r="2.45" fill="#fff" stroke="#000" stroke-width="1.1"/>
<circle cx="492.95" cy="491.85" r="2.45" fill="#fff" stroke="#000" stroke-width="1.1"/>
<circle cx="487.95" cy="497.41" r="2.45" fill="#fff" stroke="#000" stroke-width="1.1"/>
<circle cx="493.95" cy="493.24" r="2.45" fill="#fff" stroke="#000" stroke-width="1.1"/>
<circle cx="497.95" cy="490.46" r="2.45" fill="#fff" stroke="#000" stroke-width="1.1"/>
<rect x="505.2" y="507.14" width="14.9" height="47.26" fill="#c472da" stroke="#000" stroke-width="1.0" />
<line x1="512.65" y1="511.31" x2="512.65" y2="502.97" stroke="#000" stroke-width="1.1" />
<line x1="509.65" y1="502.97" x2="515.65" y2="502.97" stroke="#000" stroke-width="1.1" />
<line x1="509.65" y1="511.31" x2="515.65" y2="511.31" stroke="#000" stroke-width="1.1" />
<circle cx="512.65" cy="490.46" r="2.45" fill="#fff" stroke="#000" stroke-width="1.1"/>
<circle cx="509.65" cy="502.97" r="2.45" fill="#fff" stroke="#000" stroke-width="1.1"/>
<circle cx="515.65" cy="508.53" r="2.45" fill="#fff" stroke="#000" stroke-width="1.1"/>
<circle cx="507.65" cy="509.92" r="2.45" fill="#fff" stroke="#000" stroke-width="1.1"/>
<circle cx="516.65" cy="511.31" r="2.45" fill="#fff" stroke="#000" stroke-width="1.1"/>
<circle cx="512.65" cy="518.26" r="2.45" fill="#fff" stroke="#000" stroke-width="1.1"/>
<line x1="440.7" y1="470.5" x2="440.7" y2="554.9" stroke="#111" stroke-width="1.2" />
<line x1="440.1" y1="554.4" x2="525" y2="554.4" stroke="#111" stroke-width="1.2" />
<line x1="437.2" y1="554.4" x2="440.7" y2="554.4" stroke="#111" stroke-width="1.1" />
<text x="435.7" y="557.71" font-size="9.2" text-anchor="end" fill="#111" >0</text>
<line x1="437.2" y1="526.6" x2="440.7" y2="526.6" stroke="#111" stroke-width="1.1" />
<text x="435.7" y="529.91" font-size="9.2" text-anchor="end" fill="#111" >2</text>
<line x1="437.2" y1="498.8" x2="440.7" y2="498.8" stroke="#111" stroke-width="1.1" />
<text x="435.7" y="502.11" font-size="9.2" text-anchor="end" fill="#111" >4</text>
<line x1="437.2" y1="471" x2="440.7" y2="471" stroke="#111" stroke-width="1.1" />
<text x="435.7" y="474.31" font-size="9.2" text-anchor="end" fill="#111" >6</text>
<line x1="453.15" y1="554.4" x2="453.15" y2="557.9" stroke="#111" stroke-width="1.1" />
<line x1="472.85" y1="554.4" x2="472.85" y2="557.9" stroke="#111" stroke-width="1.1" />
<line x1="492.95" y1="554.4" x2="492.95" y2="557.9" stroke="#111" stroke-width="1.1" />
<line x1="512.65" y1="554.4" x2="512.65" y2="557.9" stroke="#111" stroke-width="1.1" />
<line x1="485.5" y1="476.6" x2="520.1" y2="476.6" stroke="#000" stroke-width="1.2" />
<text x="504.8" y="472.9" font-size="10" text-anchor="middle">P=0.007</text>
<text x="414.2" y="512" font-size="10.45" text-anchor="middle" transform="rotate(-90 414.2 512)" >Maximal abdominal</text>
<text x="424.2" y="512.6" font-size="10.3" text-anchor="middle" transform="rotate(-90 424.2 512.6)" >aortic diameter (mm)</text>
<rect x="582.5" y="539.65" width="14.9" height="14.15" fill="#f07272" stroke="#000" stroke-width="1.0" />
<line x1="589.95" y1="540.5" x2="589.95" y2="538.8" stroke="#000" stroke-width="1.1" />
<line x1="586.95" y1="538.8" x2="592.95" y2="538.8" stroke="#000" stroke-width="1.1" />
<line x1="586.95" y1="540.5" x2="592.95" y2="540.5" stroke="#000" stroke-width="1.1" />
<circle cx="585.95" cy="538.23" r="2.45" fill="#fff" stroke="#000" stroke-width="1.1"/>
<circle cx="589.95" cy="536.82" r="2.45" fill="#fff" stroke="#000" stroke-width="1.1"/>
<circle cx="593.95" cy="536.11" r="2.45" fill="#fff" stroke="#000" stroke-width="1.1"/>
<circle cx="584.95" cy="540.36" r="2.45" fill="#fff" stroke="#000" stroke-width="1.1"/>
<circle cx="590.95" cy="541.06" r="2.45" fill="#fff" stroke="#000" stroke-width="1.1"/>
<circle cx="594.95" cy="539.65" r="2.45" fill="#fff" stroke="#000" stroke-width="1.1"/>
<rect x="602.4" y="540.36" width="14.7" height="13.44" fill="#5283f0" stroke="#000" stroke-width="1.0" />
<line x1="609.75" y1="541.49" x2="609.75" y2="539.23" stroke="#000" stroke-width="1.1" />
<line x1="606.75" y1="539.23" x2="612.75" y2="539.23" stroke="#000" stroke-width="1.1" />
<line x1="606.75" y1="541.49" x2="612.75" y2="541.49" stroke="#000" stroke-width="1.1" />
<circle cx="605.75" cy="537.53" r="2.45" fill="#fff" stroke="#000" stroke-width="1.1"/>
<circle cx="609.75" cy="536.82" r="2.45" fill="#fff" stroke="#000" stroke-width="1.1"/>
<circle cx="613.75" cy="538.23" r="2.45" fill="#fff" stroke="#000" stroke-width="1.1"/>
<circle cx="604.75" cy="540.36" r="2.45" fill="#fff" stroke="#000" stroke-width="1.1"/>
<circle cx="610.75" cy="543.89" r="2.45" fill="#fff" stroke="#000" stroke-width="1.1"/>
<circle cx="614.75" cy="541.77" r="2.45" fill="#fff" stroke="#000" stroke-width="1.1"/>
<rect x="622.3" y="492.95" width="14.7" height="60.84" fill="#278a27" stroke="#000" stroke-width="1.0" />
<line x1="629.65" y1="494.37" x2="629.65" y2="491.54" stroke="#000" stroke-width="1.1" />
<line x1="626.65" y1="491.54" x2="632.65" y2="491.54" stroke="#000" stroke-width="1.1" />
<line x1="626.65" y1="494.37" x2="632.65" y2="494.37" stroke="#000" stroke-width="1.1" />
<circle cx="629.65" cy="483.76" r="2.45" fill="#fff" stroke="#000" stroke-width="1.1"/>
<circle cx="625.65" cy="490.83" r="2.45" fill="#fff" stroke="#000" stroke-width="1.1"/>
<circle cx="633.65" cy="492.95" r="2.45" fill="#fff" stroke="#000" stroke-width="1.1"/>
<circle cx="624.65" cy="497.2" r="2.45" fill="#fff" stroke="#000" stroke-width="1.1"/>
<circle cx="630.65" cy="495.08" r="2.45" fill="#fff" stroke="#000" stroke-width="1.1"/>
<circle cx="634.65" cy="493.66" r="2.45" fill="#fff" stroke="#000" stroke-width="1.1"/>
<rect x="642" y="514.18" width="15.2" height="39.62" fill="#c472da" stroke="#000" stroke-width="1.0" />
<line x1="649.6" y1="517.29" x2="649.6" y2="511.07" stroke="#000" stroke-width="1.1" />
<line x1="646.6" y1="511.07" x2="652.6" y2="511.07" stroke="#000" stroke-width="1.1" />
<line x1="646.6" y1="517.29" x2="652.6" y2="517.29" stroke="#000" stroke-width="1.1" />
<circle cx="648.6" cy="500.03" r="2.45" fill="#fff" stroke="#000" stroke-width="1.1"/>
<circle cx="646.6" cy="509.93" r="2.45" fill="#fff" stroke="#000" stroke-width="1.1"/>
<circle cx="653.6" cy="512.76" r="2.45" fill="#fff" stroke="#000" stroke-width="1.1"/>
<circle cx="644.6" cy="519.84" r="2.45" fill="#fff" stroke="#000" stroke-width="1.1"/>
<circle cx="650.6" cy="517.01" r="2.45" fill="#fff" stroke="#000" stroke-width="1.1"/>
<circle cx="654.6" cy="518.42" r="2.45" fill="#fff" stroke="#000" stroke-width="1.1"/>
<line x1="577.5" y1="468.4" x2="577.5" y2="554.3" stroke="#111" stroke-width="1.2" />
<line x1="576.9" y1="553.8" x2="661.7" y2="553.8" stroke="#111" stroke-width="1.2" />
<line x1="574" y1="553.8" x2="577.5" y2="553.8" stroke="#111" stroke-width="1.1" />
<text x="572.5" y="557.11" font-size="9.2" text-anchor="end" fill="#111" >0</text>
<line x1="574" y1="525.5" x2="577.5" y2="525.5" stroke="#111" stroke-width="1.1" />
<text x="572.5" y="528.81" font-size="9.2" text-anchor="end" fill="#111" >2</text>
<line x1="574" y1="497.2" x2="577.5" y2="497.2" stroke="#111" stroke-width="1.1" />
<text x="572.5" y="500.51" font-size="9.2" text-anchor="end" fill="#111" >4</text>
<line x1="574" y1="468.9" x2="577.5" y2="468.9" stroke="#111" stroke-width="1.1" />
<text x="572.5" y="472.21" font-size="9.2" text-anchor="end" fill="#111" >6</text>
<line x1="589.95" y1="553.8" x2="589.95" y2="557.3" stroke="#111" stroke-width="1.1" />
<line x1="609.75" y1="553.8" x2="609.75" y2="557.3" stroke="#111" stroke-width="1.1" />
<line x1="629.65" y1="553.8" x2="629.65" y2="557.3" stroke="#111" stroke-width="1.1" />
<line x1="649.6" y1="553.8" x2="649.6" y2="557.3" stroke="#111" stroke-width="1.1" />
<line x1="630" y1="470.7" x2="653.3" y2="470.7" stroke="#000" stroke-width="1.2" />
<text x="639.8" y="465.8" font-size="9.5" text-anchor="middle">P=3.915×10<tspan font-size="5.7" dy="-3.8">-4</tspan></text>
<text x="549.6" y="510.4" font-size="10.3" text-anchor="middle" transform="rotate(-90 549.6 510.4)" >Aorta weight (mg)</text>
<text x="560" y="510.4" font-size="10.7" text-anchor="middle" transform="rotate(-90 560 510.4)" >/body weight (g)</text>
<text x="-0.5" y="601" font-size="18.8" font-weight="bold" >F</text>
<circle cx="26.8" cy="599.4" r="3.6" fill="#f07272" stroke="#222" stroke-width="0.8"/>
<text x="32.3" y="602.6" font-size="8.7"><tspan font-style="italic">Gsdme</tspan><tspan font-size="5.22" dy="-3.13">Stop/Stop</tspan></text>
<circle cx="91.8" cy="599.4" r="3.6" fill="#5283f0" stroke="#222" stroke-width="0.8"/>
<text x="96.8" y="602.6" font-size="8.7"><tspan font-style="italic">Gsdme</tspan><tspan font-size="5.22" dy="-3.13">Stop/Stop</tspan><tspan dy="3.13">+D+Q</tspan></text>
<circle cx="26.8" cy="612.3" r="3.6" fill="#278a27" stroke="#222" stroke-width="0.8"/>
<text x="34.7" y="615.5" font-size="8.7"><tspan font-style="italic">Gsdme</tspan><tspan font-size="5.22" dy="-3.13">SR</tspan></text>
<circle cx="91.8" cy="612.3" r="3.6" fill="#c472da" stroke="#222" stroke-width="0.8"/>
<text x="99.3" y="615.5" font-size="8.7"><tspan font-style="italic">Gsdme</tspan><tspan font-size="5.22" dy="-3.13">SR</tspan><tspan dy="3.13">+D+Q</tspan></text>
<line x1="37.3" y1="630.7" x2="37.3" y2="741.5" stroke="#111" stroke-width="1.2" />
<line x1="36.7" y1="741" x2="171.8" y2="741" stroke="#111" stroke-width="1.2" />
<line x1="33.8" y1="741" x2="37.3" y2="741" stroke="#111" stroke-width="1.1" />
<text x="32.3" y="744.6" font-size="10" text-anchor="end" fill="#111" >0</text>
<line x1="33.8" y1="719.04" x2="37.3" y2="719.04" stroke="#111" stroke-width="1.1" />
<text x="32.3" y="722.64" font-size="10" text-anchor="end" fill="#111" >1</text>
<line x1="33.8" y1="697.08" x2="37.3" y2="697.08" stroke="#111" stroke-width="1.1" />
<text x="32.3" y="700.68" font-size="10" text-anchor="end" fill="#111" >2</text>
<line x1="33.8" y1="675.12" x2="37.3" y2="675.12" stroke="#111" stroke-width="1.1" />
<text x="32.3" y="678.72" font-size="10" text-anchor="end" fill="#111" >3</text>
<line x1="33.8" y1="653.16" x2="37.3" y2="653.16" stroke="#111" stroke-width="1.1" />
<text x="32.3" y="656.76" font-size="10" text-anchor="end" fill="#111" >4</text>
<line x1="33.8" y1="631.2" x2="37.3" y2="631.2" stroke="#111" stroke-width="1.1" />
<text x="32.3" y="634.8" font-size="10" text-anchor="end" fill="#111" >5</text>
<line x1="58.8" y1="741" x2="58.8" y2="745" stroke="#111" stroke-width="1.1" />
<line x1="102.3" y1="741" x2="102.3" y2="745" stroke="#111" stroke-width="1.1" />
<line x1="146.4" y1="741" x2="146.4" y2="745" stroke="#111" stroke-width="1.1" />
<text x="58.8" y="757.3" font-size="10" text-anchor="middle"><tspan font-style="italic">Il-1</tspan>β</text>
<text x="102.3" y="757.3" font-size="10" text-anchor="middle" font-style="italic" >Il-6</text>
<text x="146.4" y="757.3" font-size="10" text-anchor="middle" font-style="italic" >Ccl2</text>
<text x="9.3" y="686.7" font-size="9.9" text-anchor="middle" transform="rotate(-90 9.3 686.7)" >Relative mRNA expression</text>
<text x="19.6" y="685.5" font-size="9.9" text-anchor="middle" transform="rotate(-90 19.6 685.5)" >in mouse aorta</text>
<circle cx="42.5" cy="714.21" r="2.6" fill="#f07272" stroke="#111" stroke-width="0.9"/>
<circle cx="46.9" cy="715.53" r="2.6" fill="#f07272" stroke="#111" stroke-width="0.9"/>
<circle cx="43.2" cy="716.84" r="2.6" fill="#f07272" stroke="#111" stroke-width="0.9"/>
<circle cx="46.5" cy="717.94" r="2.6" fill="#f07272" stroke="#111" stroke-width="0.9"/>
<circle cx="42.3" cy="719.04" r="2.6" fill="#f07272" stroke="#111" stroke-width="0.9"/>
<circle cx="45.2" cy="720.8" r="2.6" fill="#f07272" stroke="#111" stroke-width="0.9"/>
<line x1="41.2" y1="717.39" x2="48.2" y2="717.39" stroke="#000" stroke-width="1.1" />
<line x1="44.7" y1="718.37" x2="44.7" y2="716.42" stroke="#000" stroke-width="1.1" />
<line x1="42.7" y1="716.42" x2="46.7" y2="716.42" stroke="#000" stroke-width="1.0" />
<line x1="42.7" y1="718.37" x2="46.7" y2="718.37" stroke="#000" stroke-width="1.0" />
<circle cx="52.4" cy="712.45" r="2.6" fill="#5283f0" stroke="#111" stroke-width="0.9"/>
<circle cx="56.8" cy="714.65" r="2.6" fill="#5283f0" stroke="#111" stroke-width="0.9"/>
<circle cx="53.1" cy="717.72" r="2.6" fill="#5283f0" stroke="#111" stroke-width="0.9"/>
<circle cx="56.4" cy="719.04" r="2.6" fill="#5283f0" stroke="#111" stroke-width="0.9"/>
<circle cx="52.2" cy="720.58" r="2.6" fill="#5283f0" stroke="#111" stroke-width="0.9"/>
<circle cx="55.1" cy="721.24" r="2.6" fill="#5283f0" stroke="#111" stroke-width="0.9"/>
<line x1="51.1" y1="717.61" x2="58.1" y2="717.61" stroke="#000" stroke-width="1.1" />
<line x1="54.6" y1="719.02" x2="54.6" y2="716.21" stroke="#000" stroke-width="1.1" />
<line x1="52.6" y1="716.21" x2="56.6" y2="716.21" stroke="#000" stroke-width="1.0" />
<line x1="52.6" y1="719.02" x2="56.6" y2="719.02" stroke="#000" stroke-width="1.0" />
<circle cx="61.2" cy="673.36" r="2.6" fill="#278a27" stroke="#111" stroke-width="0.9"/>
<circle cx="65.6" cy="674.02" r="2.6" fill="#278a27" stroke="#111" stroke-width="0.9"/>
<circle cx="61.9" cy="678.19" r="2.6" fill="#278a27" stroke="#111" stroke-width="0.9"/>
<circle cx="65.2" cy="684.56" r="2.6" fill="#278a27" stroke="#111" stroke-width="0.9"/>
<circle cx="61" cy="696.42" r="2.6" fill="#278a27" stroke="#111" stroke-width="0.9"/>
<circle cx="63.9" cy="699.72" r="2.6" fill="#278a27" stroke="#111" stroke-width="0.9"/>
<line x1="59.9" y1="684.38" x2="66.9" y2="684.38" stroke="#000" stroke-width="1.1" />
<line x1="63.4" y1="689.02" x2="63.4" y2="679.74" stroke="#000" stroke-width="1.1" />
<line x1="61.4" y1="679.74" x2="65.4" y2="679.74" stroke="#000" stroke-width="1.0" />
<line x1="61.4" y1="689.02" x2="65.4" y2="689.02" stroke="#000" stroke-width="1.0" />
<circle cx="70.3" cy="697.08" r="2.6" fill="#c472da" stroke="#111" stroke-width="0.9"/>
<circle cx="74.7" cy="697.96" r="2.6" fill="#c472da" stroke="#111" stroke-width="0.9"/>
<circle cx="71" cy="701.47" r="2.6" fill="#c472da" stroke="#111" stroke-width="0.9"/>
<circle cx="74.3" cy="703.45" r="2.6" fill="#c472da" stroke="#111" stroke-width="0.9"/>
<circle cx="70.1" cy="705.64" r="2.6" fill="#c472da" stroke="#111" stroke-width="0.9"/>
<circle cx="73" cy="716.19" r="2.6" fill="#c472da" stroke="#111" stroke-width="0.9"/>
<line x1="69" y1="703.63" x2="76" y2="703.63" stroke="#000" stroke-width="1.1" />
<line x1="72.5" y1="706.47" x2="72.5" y2="700.79" stroke="#000" stroke-width="1.1" />
<line x1="70.5" y1="700.79" x2="74.5" y2="700.79" stroke="#000" stroke-width="1.0" />
<line x1="70.5" y1="706.47" x2="74.5" y2="706.47" stroke="#000" stroke-width="1.0" />
<circle cx="86.5" cy="711.35" r="2.6" fill="#f07272" stroke="#111" stroke-width="0.9"/>
<circle cx="90.9" cy="714.21" r="2.6" fill="#f07272" stroke="#111" stroke-width="0.9"/>
<circle cx="87.2" cy="716.84" r="2.6" fill="#f07272" stroke="#111" stroke-width="0.9"/>
<circle cx="90.5" cy="719.04" r="2.6" fill="#f07272" stroke="#111" stroke-width="0.9"/>
<circle cx="86.3" cy="720.14" r="2.6" fill="#f07272" stroke="#111" stroke-width="0.9"/>
<circle cx="89.2" cy="721.24" r="2.6" fill="#f07272" stroke="#111" stroke-width="0.9"/>
<line x1="85.2" y1="717.14" x2="92.2" y2="717.14" stroke="#000" stroke-width="1.1" />
<line x1="88.7" y1="718.68" x2="88.7" y2="715.59" stroke="#000" stroke-width="1.1" />
<line x1="86.7" y1="715.59" x2="90.7" y2="715.59" stroke="#000" stroke-width="1.0" />
<line x1="86.7" y1="718.68" x2="90.7" y2="718.68" stroke="#000" stroke-width="1.0" />
<circle cx="95.8" cy="713.55" r="2.6" fill="#5283f0" stroke="#111" stroke-width="0.9"/>
<circle cx="100.2" cy="716.4" r="2.6" fill="#5283f0" stroke="#111" stroke-width="0.9"/>
<circle cx="96.5" cy="719.04" r="2.6" fill="#5283f0" stroke="#111" stroke-width="0.9"/>
<circle cx="99.8" cy="720.14" r="2.6" fill="#5283f0" stroke="#111" stroke-width="0.9"/>
<circle cx="95.6" cy="721.24" r="2.6" fill="#5283f0" stroke="#111" stroke-width="0.9"/>
<circle cx="98.5" cy="722.11" r="2.6" fill="#5283f0" stroke="#111" stroke-width="0.9"/>
<line x1="94.5" y1="718.75" x2="101.5" y2="718.75" stroke="#000" stroke-width="1.1" />
<line x1="98" y1="720.06" x2="98" y2="717.43" stroke="#000" stroke-width="1.1" />
<line x1="96" y1="717.43" x2="100" y2="717.43" stroke="#000" stroke-width="1.0" />
<line x1="96" y1="720.06" x2="100" y2="720.06" stroke="#000" stroke-width="1.0" />
<circle cx="104.8" cy="675.78" r="2.6" fill="#278a27" stroke="#111" stroke-width="0.9"/>
<circle cx="109.2" cy="684.78" r="2.6" fill="#278a27" stroke="#111" stroke-width="0.9"/>
<circle cx="105.5" cy="690.49" r="2.6" fill="#278a27" stroke="#111" stroke-width="0.9"/>
<circle cx="108.8" cy="694.01" r="2.6" fill="#278a27" stroke="#111" stroke-width="0.9"/>
<circle cx="104.6" cy="697.08" r="2.6" fill="#278a27" stroke="#111" stroke-width="0.9"/>
<circle cx="107.5" cy="698.18" r="2.6" fill="#278a27" stroke="#111" stroke-width="0.9"/>
<line x1="103.5" y1="690.05" x2="110.5" y2="690.05" stroke="#000" stroke-width="1.1" />
<line x1="107" y1="693.53" x2="107" y2="686.58" stroke="#000" stroke-width="1.1" />
<line x1="105" y1="686.58" x2="109" y2="686.58" stroke="#000" stroke-width="1.0" />
<line x1="105" y1="693.53" x2="109" y2="693.53" stroke="#000" stroke-width="1.0" />
<circle cx="114.2" cy="695.98" r="2.6" fill="#c472da" stroke="#111" stroke-width="0.9"/>
<circle cx="118.6" cy="698.18" r="2.6" fill="#c472da" stroke="#111" stroke-width="0.9"/>
<circle cx="114.9" cy="699.28" r="2.6" fill="#c472da" stroke="#111" stroke-width="0.9"/>
<circle cx="118.2" cy="704.77" r="2.6" fill="#c472da" stroke="#111" stroke-width="0.9"/>
<circle cx="114" cy="706.96" r="2.6" fill="#c472da" stroke="#111" stroke-width="0.9"/>
<circle cx="116.9" cy="711.35" r="2.6" fill="#c472da" stroke="#111" stroke-width="0.9"/>
<line x1="112.9" y1="702.75" x2="119.9" y2="702.75" stroke="#000" stroke-width="1.1" />
<line x1="116.4" y1="705.17" x2="116.4" y2="700.34" stroke="#000" stroke-width="1.1" />
<line x1="114.4" y1="700.34" x2="118.4" y2="700.34" stroke="#000" stroke-width="1.0" />
<line x1="114.4" y1="705.17" x2="118.4" y2="705.17" stroke="#000" stroke-width="1.0" />
<circle cx="130.6" cy="714.65" r="2.6" fill="#f07272" stroke="#111" stroke-width="0.9"/>
<circle cx="135" cy="716.84" r="2.6" fill="#f07272" stroke="#111" stroke-width="0.9"/>
<circle cx="131.3" cy="719.04" r="2.6" fill="#f07272" stroke="#111" stroke-width="0.9"/>
<circle cx="134.6" cy="719.48" r="2.6" fill="#f07272" stroke="#111" stroke-width="0.9"/>
<circle cx="130.4" cy="719.92" r="2.6" fill="#f07272" stroke="#111" stroke-width="0.9"/>
<circle cx="133.3" cy="717.94" r="2.6" fill="#f07272" stroke="#111" stroke-width="0.9"/>
<line x1="129.3" y1="717.98" x2="136.3" y2="717.98" stroke="#000" stroke-width="1.1" />
<line x1="132.8" y1="718.79" x2="132.8" y2="717.17" stroke="#000" stroke-width="1.1" />
<line x1="130.8" y1="717.17" x2="134.8" y2="717.17" stroke="#000" stroke-width="1.0" />
<line x1="130.8" y1="718.79" x2="134.8" y2="718.79" stroke="#000" stroke-width="1.0" />
<circle cx="139.8" cy="716.84" r="2.6" fill="#5283f0" stroke="#111" stroke-width="0.9"/>
<circle cx="144.2" cy="719.04" r="2.6" fill="#5283f0" stroke="#111" stroke-width="0.9"/>
<circle cx="140.5" cy="721.24" r="2.6" fill="#5283f0" stroke="#111" stroke-width="0.9"/>
<circle cx="143.8" cy="722.33" r="2.6" fill="#5283f0" stroke="#111" stroke-width="0.9"/>
<circle cx="139.6" cy="720.14" r="2.6" fill="#5283f0" stroke="#111" stroke-width="0.9"/>
<circle cx="142.5" cy="717.94" r="2.6" fill="#5283f0" stroke="#111" stroke-width="0.9"/>
<line x1="138.5" y1="719.59" x2="145.5" y2="719.59" stroke="#000" stroke-width="1.1" />
<line x1="142" y1="720.43" x2="142" y2="718.75" stroke="#000" stroke-width="1.1" />
<line x1="140" y1="718.75" x2="144" y2="718.75" stroke="#000" stroke-width="1.0" />
<line x1="140" y1="720.43" x2="144" y2="720.43" stroke="#000" stroke-width="1.0" />
<circle cx="149.3" cy="655.14" r="2.6" fill="#278a27" stroke="#111" stroke-width="0.9"/>
<circle cx="153.7" cy="668.75" r="2.6" fill="#278a27" stroke="#111" stroke-width="0.9"/>
<circle cx="150" cy="674.24" r="2.6" fill="#278a27" stroke="#111" stroke-width="0.9"/>
<circle cx="153.3" cy="676.22" r="2.6" fill="#278a27" stroke="#111" stroke-width="0.9"/>
<circle cx="149.1" cy="686.1" r="2.6" fill="#278a27" stroke="#111" stroke-width="0.9"/>
<circle cx="152" cy="694.23" r="2.6" fill="#278a27" stroke="#111" stroke-width="0.9"/>
<line x1="148" y1="675.78" x2="155" y2="675.78" stroke="#000" stroke-width="1.1" />
<line x1="151.5" y1="681.33" x2="151.5" y2="670.23" stroke="#000" stroke-width="1.1" />
<line x1="149.5" y1="670.23" x2="153.5" y2="670.23" stroke="#000" stroke-width="1.0" />
<line x1="149.5" y1="681.33" x2="153.5" y2="681.33" stroke="#000" stroke-width="1.0" />
<circle cx="158" cy="696.64" r="2.6" fill="#c472da" stroke="#111" stroke-width="0.9"/>
<circle cx="162.4" cy="699.28" r="2.6" fill="#c472da" stroke="#111" stroke-width="0.9"/>
<circle cx="158.7" cy="703.67" r="2.6" fill="#c472da" stroke="#111" stroke-width="0.9"/>
<circle cx="162" cy="706.52" r="2.6" fill="#c472da" stroke="#111" stroke-width="0.9"/>
<circle cx="157.8" cy="709.16" r="2.6" fill="#c472da" stroke="#111" stroke-width="0.9"/>
<circle cx="160.7" cy="712.45" r="2.6" fill="#c472da" stroke="#111" stroke-width="0.9"/>
<line x1="156.7" y1="704.62" x2="163.7" y2="704.62" stroke="#000" stroke-width="1.1" />
<line x1="160.2" y1="707.06" x2="160.2" y2="702.18" stroke="#000" stroke-width="1.1" />
<line x1="158.2" y1="702.18" x2="162.2" y2="702.18" stroke="#000" stroke-width="1.0" />
<line x1="158.2" y1="707.06" x2="162.2" y2="707.06" stroke="#000" stroke-width="1.0" />
<line x1="62.3" y1="660.4" x2="75.9" y2="660.4" stroke="#000" stroke-width="1.2" />
<text x="70.6" y="656" font-size="10" text-anchor="middle" >P=0.004</text>
<line x1="107.2" y1="668.1" x2="121.6" y2="668.1" stroke="#000" stroke-width="1.2" />
<text x="116.4" y="663.7" font-size="10" text-anchor="middle" >P=0.013</text>
<line x1="151.5" y1="647.9" x2="165.3" y2="647.9" stroke="#000" stroke-width="1.2" />
<text x="159.5" y="643.3" font-size="10" text-anchor="middle" >P=0.001</text>
<text x="172.5" y="600.2" font-size="18.8" font-weight="bold" >G</text>
<text x="279.8" y="593.3" font-size="10.2" text-anchor="middle" >P-AAA</text>
<line x1="208" y1="595.8" x2="347" y2="595.8" stroke="#000" stroke-width="1.1" />
<text x="242.2" y="608.6" font-size="9.7" text-anchor="middle"><tspan font-style="italic">Gsdme</tspan><tspan font-size="5.82" dy="-3.49">Stop/Stop</tspan></text>
<text x="315.1" y="608.6" font-size="9.7" text-anchor="middle"><tspan font-style="italic">Gsdme</tspan><tspan font-size="5.82" dy="-3.49">Stop/Stop</tspan><tspan dy="3.49">+D+Q</tspan></text>
<text x="239.6" y="681.3" font-size="9.7" text-anchor="middle"><tspan font-style="italic">Gsdme</tspan><tspan font-size="5.82" dy="-3.49">SR</tspan></text>
<text x="315.6" y="681.3" font-size="9.7" text-anchor="middle"><tspan font-style="italic">Gsdme</tspan><tspan font-size="5.82" dy="-3.49">SR</tspan><tspan dy="3.49">+D+Q</tspan></text>
<line x1="196.3" y1="631.5" x2="196.3" y2="727" stroke="#000" stroke-width="1.1" />
<text x="191.5" y="680.2" font-size="10.5" text-anchor="middle" textLength="25" lengthAdjust="spacingAndGlyphs" transform="rotate(-90 191.5 680.2)" >H &amp; E</text>
<g clip-path="url(#ci200_612)"><rect x="200.3" y="612.3" width="73.5" height="55.1" fill="#efe6e8"/><g filter="url(#texp)"><path d="M198,611 L276,611 L276,647.6 C262,649 245,650 235,649.8 C220,649 208,646 198,643 Z" fill="#dc719a"/><path d="M198,643 C210,646 222,649 235,650 C245,650 262,649 276,647.6 L276,653 C255,655 230,655 198,650 Z" fill="#e6b0c2"/><path d="M212,622 C220,631 245,633 257,620 L257,626 C245,636 220,635 212,628 Z" fill="#e7a9c0"/><path d="M198,654 C210,655 222,660 232,668 L198,668 Z" fill="#e4a2ba"/><path d="M238,668 C245,660 255,657 276,656 L276,668 Z" fill="#eab4c6"/></g><g filter="url(#soft)"><path d="M211,611 C210,618 212,624 216,626 C225,629 235,630 245,628 C252,627 256,624 257,611 Z" fill="#f1eeec"/></g></g>
<rect x="200.3" y="612.3" width="73.5" height="55.1" fill="none" stroke="#2a2222" stroke-width="1.2" />
<g clip-path="url(#ci277_612)"><rect x="277" y="612.3" width="74" height="55.1" fill="#e3ead8"/><g filter="url(#texp)"><path d="M276,637 C282,635 288,633 295,630 C310,624 330,620 352,617 L352,636.5 C340,638 332,642 326,646.5 C315,652 305,660 300,668 L276,668 Z" fill="#de739b"/><path d="M276,650 C290,648 305,645 320,640 C330,637 340,634 352,632 L352,636 C335,640 320,645 305,650 C292,654 282,656 276,657 Z" fill="#e9a9c0"/><path d="M276,658 C285,657 292,660 297,668 L276,668 Z" fill="#e7a3bc"/><path d="M300,668 C300,661 304,657 309,657 C311,660 309,664 306,668 Z" fill="#df86a8"/></g><g filter="url(#soft)"><path d="M276,611 L352,611 L352,617 C330,620 310,624 295,630 C288,633 282,635 276,637 Z" fill="#ebe8ec"/></g></g>
<rect x="277" y="612.3" width="74" height="55.1" fill="none" stroke="#2a2222" stroke-width="1.2" />
<g clip-path="url(#ci200_685)"><rect x="200.3" y="685.2" width="73.5" height="55.8" fill="#e6719a"/><g filter="url(#texp)"><path d="M198,683 L276,683 L276,742 L198,742 Z" fill="#e6719a"/><path d="M198,716 C230,722 250,725 276,722 L276,732 C250,735 230,733 198,728 Z" fill="#e7849f"/><path d="M198,735 C230,737 250,738 276,736 L276,742 L198,742 Z" fill="#eb9fb8"/></g></g>
<rect x="200.3" y="685.2" width="73.5" height="55.8" fill="none" stroke="#2a2222" stroke-width="1.2" />
<g clip-path="url(#ci277_685)"><rect x="277" y="685.2" width="74" height="55.8" fill="#e4ead9"/><g filter="url(#texp)"><path d="M276,684 L352,684 L352,706.2 C345,708 340,710.6 338,710.6 C330,712 322,712.3 318,712.3 C310,712 302,711 298,710.6 C295,713 293,716 292.6,716.2 C285,717 280,717.3 276,717.3 Z" fill="#e0759c"/></g><g filter="url(#soft)"><path d="M285,686 C292,686 300,687 305,688 C300,690 292,692 285,692 Z" fill="#f0e8ec"/></g></g>
<rect x="277" y="685.2" width="74" height="55.8" fill="none" stroke="#2a2222" stroke-width="1.2" />
<rect x="258.8" y="664.6" width="13.5" height="1.6" fill="#222" />
<rect x="336" y="664.6" width="13.5" height="1.6" fill="#222" />
<rect x="258.8" y="738.4" width="13.5" height="1.6" fill="#222" />
<rect x="336" y="738.4" width="13.5" height="1.6" fill="#222" />
<text x="342.8" y="733.4" font-size="7.4" text-anchor="middle" fill="#111" >100</text>
<line x1="335" y1="736.8" x2="350" y2="736.8" stroke="#888" stroke-width="1" />
<text x="357.5" y="601" font-size="18.8" font-weight="bold" >H</text>
<text x="444.6" y="592.4" font-size="10.2" text-anchor="middle" >P-AAA</text>
<line x1="373.6" y1="595.2" x2="512" y2="595.2" stroke="#000" stroke-width="1.1" />
<text x="417.5" y="604.8" font-size="9.7" text-anchor="middle"><tspan font-style="italic">Gsdme</tspan><tspan font-size="5.82" dy="-3.49">Stop/Stop</tspan></text>
<text x="497.7" y="604.8" font-size="9.7" text-anchor="middle"><tspan font-style="italic">Gsdme</tspan><tspan font-size="5.82" dy="-3.49">Stop/Stop</tspan><tspan dy="3.49">+D+Q</tspan></text>
<text x="418.8" y="678.3" font-size="9.7" text-anchor="middle"><tspan font-style="italic">Gsdme</tspan><tspan font-size="5.82" dy="-3.49">SR</tspan></text>
<text x="498.5" y="678.3" font-size="9.7" text-anchor="middle"><tspan font-style="italic">Gsdme</tspan><tspan font-size="5.82" dy="-3.49">SR</tspan><tspan dy="3.49">+D+Q</tspan></text>
<line x1="372.8" y1="630" x2="372.8" y2="725.8" stroke="#000" stroke-width="1.1" />
<text x="366.8" y="680" font-size="10" text-anchor="middle" transform="rotate(-90 366.8 680)" >EVG</text>
<g clip-path="url(#ci377_609)"><rect x="377.4" y="609.6" width="77.1" height="56.6" fill="#c3cfbe"/><g filter="url(#tex)"><path d="M376,609 L456,609 L456,628 C445,630 432,632 425,636 C418,641 414,646 408,646 C400,645 392,638 376,636 Z" fill="#847838"/><path d="M384,609 L427,609 C420,613 400,614 384,611 Z" fill="#cfdccc"/><path d="M376,636 C392,638 400,645 408,646 C414,646 418,641 425,636 C432,632 445,630 456,628 L456,645 C440,647 425,650 410,652 C398,654 386,652 376,650 Z" fill="#b0683e"/><path d="M376,650 C386,652 398,654 410,652 C425,650 440,647 456,645 L456,650 C440,653 420,655 400,655 C390,655 382,654 376,653 Z" fill="#bb8a6a"/><path d="M380,659 C395,658 410,660 425,658 C435,657 445,658 456,657 L456,659.5 C440,660.5 425,661.5 410,662 C398,662 388,661 380,661 Z" fill="#c48a6c"/><path d="M376,663 C395,663 415,664 440,663 L440,665 C415,666 395,666 376,666 Z" fill="#c49078"/></g></g>
<rect x="377.4" y="609.6" width="77.1" height="56.6" fill="none" stroke="#2a2222" stroke-width="1.2" />
<path d="M384,612 C395,617 412,611 430,615 C440,617 450,613 456,611" fill="none" stroke="#4e3e1c" stroke-width="1.2"/>
<path d="M376,624 C392,628 412,622 432,626 C444,628 452,624 456,622" fill="none" stroke="#5e4c22" stroke-width="0.9"/>
<g clip-path="url(#ci458_609)"><rect x="458.8" y="609.6" width="77.1" height="56.6" fill="#c3d1c1"/><g filter="url(#tex)"><path d="M458,626 C480,626 500,626 510,625 C520,622 530,620 537,619 L537,642 L458,642 Z" fill="#654431"/><path d="M458,641 L537,641 L537,652 L458,652 Z" fill="#9f5444"/><path d="M458,651 L537,651 L537,667 L458,667 Z" fill="#b2786c"/><path d="M458,652 C480,654 500,652 537,650 L537,653 C500,655 480,657 458,656 Z" fill="#b9a49a"/><path d="M480,658 C495,657 510,658 520,657 L520,660 C510,661 495,660 480,661 Z" fill="#c0c8b8"/><path d="M520,655 C527,654 532,655 537,654 L537,662 C530,662 525,661 520,660 Z" fill="#c2cbbb"/></g></g>
<rect x="458.8" y="609.6" width="77.1" height="56.6" fill="none" stroke="#2a2222" stroke-width="1.2" />
<g clip-path="url(#ci377_682)"><rect x="377.4" y="682.3" width="77.1" height="56.9" fill="#b96548"/><g filter="url(#tex)"><path d="M376,682 L414,682 C412,690 405,698 395,702 C388,704 382,705 376,705 Z" fill="#a08448"/><path d="M446,682 L456,682 L456,702 L444,702 Z" fill="#8a5a40"/><path d="M443,682 L448,682 C447,688 445,695 442,700 Z" fill="#dfe6dc"/><path d="M376,731 C400,729 430,727 456,724 L456,729 C430,732 400,734 376,736 Z" fill="#7a4030"/><path d="M376,735 C400,733 430,731 456,728 L456,740 L376,740 Z" fill="#dce3d8"/></g></g>
<rect x="377.4" y="682.3" width="77.1" height="56.9" fill="none" stroke="#2a2222" stroke-width="1.2" />
<g clip-path="url(#ci458_682)"><rect x="458.8" y="682.3" width="77.1" height="56.9" fill="#dce3d6"/><g filter="url(#tex)"><path d="M458,692 C475,690 500,690 520,689 C528,689 533,688 537,688 L537,720 C520,721 500,722 480,723 C470,724 462,724 458,724 Z" fill="#9a7c42"/><path d="M458,706 C480,704 510,706 537,703 L537,707 C510,710 480,708 458,710 Z" fill="#a89070"/><path d="M458,715 C480,713 510,715 537,712 L537,715 C510,718 480,716 458,718 Z" fill="#a89274"/></g></g>
<rect x="458.8" y="682.3" width="77.1" height="56.9" fill="none" stroke="#2a2222" stroke-width="1.2" />
<rect x="439.5" y="663.6" width="13.5" height="1.6" fill="#222" />
<rect x="520.9" y="663.6" width="13.5" height="1.6" fill="#222" />
<rect x="439.5" y="736.6" width="13.5" height="1.6" fill="#222" />
<rect x="520.9" y="736.6" width="13.5" height="1.6" fill="#222" />
<text x="526" y="735.2" font-size="8" text-anchor="middle" fill="#111" >100</text>
<circle cx="546.5" cy="596.3" r="3.5" fill="#f07272" stroke="#222" stroke-width="0.8"/>
<text x="551.8" y="599.4" font-size="8.6"><tspan font-style="italic">Gsdme</tspan><tspan font-size="5.16" dy="-3.1">Stop/Stop</tspan></text>
<circle cx="607" cy="596.3" r="3.5" fill="#5283f0" stroke="#222" stroke-width="0.8"/>
<text x="612.3" y="599.4" font-size="8.6"><tspan font-style="italic">Gsdme</tspan><tspan font-size="5.16" dy="-3.1">Stop/Stop</tspan><tspan dy="3.1">+D+Q</tspan></text>
<circle cx="546.5" cy="607.6" r="3.5" fill="#278a27" stroke="#222" stroke-width="0.8"/>
<text x="551.8" y="610.7" font-size="8.6"><tspan font-style="italic">Gsdme</tspan><tspan font-size="5.16" dy="-3.1">SR</tspan></text>
<circle cx="607" cy="607.6" r="3.5" fill="#c472da" stroke="#222" stroke-width="0.8"/>
<text x="612.3" y="610.7" font-size="8.6"><tspan font-style="italic">Gsdme</tspan><tspan font-size="5.16" dy="-3.1">SR</tspan><tspan dy="3.1">+D+Q</tspan></text>
<rect x="585.1" y="709.05" width="16.6" height="27.85" fill="#f07272" stroke="#000" stroke-width="1.0" />
<line x1="593.4" y1="713.1" x2="593.4" y2="705.01" stroke="#000" stroke-width="1.1" />
<line x1="590.4" y1="705.01" x2="596.4" y2="705.01" stroke="#000" stroke-width="1.1" />
<line x1="590.4" y1="713.1" x2="596.4" y2="713.1" stroke="#000" stroke-width="1.1" />
<circle cx="593.4" cy="689.3" r="2.45" fill="#fff" stroke="#000" stroke-width="1.1"/>
<circle cx="588.4" cy="713.1" r="2.45" fill="#fff" stroke="#000" stroke-width="1.1"/>
<circle cx="591.4" cy="713.1" r="2.45" fill="#fff" stroke="#000" stroke-width="1.1"/>
<circle cx="595.4" cy="713.1" r="2.45" fill="#fff" stroke="#000" stroke-width="1.1"/>
<circle cx="598.4" cy="713.1" r="2.45" fill="#fff" stroke="#000" stroke-width="1.1"/>
<circle cx="593.4" cy="713.1" r="2.45" fill="#fff" stroke="#000" stroke-width="1.1"/>
<rect x="607.5" y="713.1" width="16.5" height="23.8" fill="#5283f0" stroke="#000" stroke-width="1.0" />
<circle cx="610.75" cy="713.1" r="2.45" fill="#fff" stroke="#000" stroke-width="1.1"/>
<circle cx="615.75" cy="713.1" r="2.45" fill="#fff" stroke="#000" stroke-width="1.1"/>
<circle cx="620.75" cy="713.1" r="2.45" fill="#fff" stroke="#000" stroke-width="1.1"/>
<rect x="630.3" y="673.35" width="16.6" height="63.55" fill="#278a27" stroke="#000" stroke-width="1.0" />
<line x1="638.6" y1="678.35" x2="638.6" y2="668.36" stroke="#000" stroke-width="1.1" />
<line x1="635.6" y1="668.36" x2="641.6" y2="668.36" stroke="#000" stroke-width="1.1" />
<line x1="635.6" y1="678.35" x2="641.6" y2="678.35" stroke="#000" stroke-width="1.1" />
<circle cx="633.6" cy="665.5" r="2.45" fill="#fff" stroke="#000" stroke-width="1.1"/>
<circle cx="636.9" cy="665.5" r="2.45" fill="#fff" stroke="#000" stroke-width="1.1"/>
<circle cx="640.3" cy="665.5" r="2.45" fill="#fff" stroke="#000" stroke-width="1.1"/>
<circle cx="643.6" cy="665.5" r="2.45" fill="#fff" stroke="#000" stroke-width="1.1"/>
<circle cx="636.6" cy="689.3" r="2.45" fill="#fff" stroke="#000" stroke-width="1.1"/>
<circle cx="640.6" cy="689.3" r="2.45" fill="#fff" stroke="#000" stroke-width="1.1"/>
<rect x="652.9" y="697.15" width="16.3" height="39.75" fill="#c472da" stroke="#000" stroke-width="1.0" />
<line x1="661.05" y1="702.15" x2="661.05" y2="692.16" stroke="#000" stroke-width="1.1" />
<line x1="658.05" y1="692.16" x2="664.05" y2="692.16" stroke="#000" stroke-width="1.1" />
<line x1="658.05" y1="702.15" x2="664.05" y2="702.15" stroke="#000" stroke-width="1.1" />
<circle cx="656.05" cy="689.3" r="2.45" fill="#fff" stroke="#000" stroke-width="1.1"/>
<circle cx="659.35" cy="689.3" r="2.45" fill="#fff" stroke="#000" stroke-width="1.1"/>
<circle cx="662.75" cy="689.3" r="2.45" fill="#fff" stroke="#000" stroke-width="1.1"/>
<circle cx="666.05" cy="689.3" r="2.45" fill="#fff" stroke="#000" stroke-width="1.1"/>
<circle cx="659.05" cy="713.1" r="2.45" fill="#fff" stroke="#000" stroke-width="1.1"/>
<circle cx="663.05" cy="713.1" r="2.45" fill="#fff" stroke="#000" stroke-width="1.1"/>
<line x1="579.9" y1="641.2" x2="579.9" y2="737.4" stroke="#111" stroke-width="1.2" />
<line x1="579.3" y1="736.9" x2="675.3" y2="736.9" stroke="#111" stroke-width="1.2" />
<line x1="576.4" y1="736.9" x2="579.9" y2="736.9" stroke="#111" stroke-width="1.1" />
<text x="574.9" y="740.5" font-size="10" text-anchor="end" fill="#111" >0</text>
<line x1="576.4" y1="713.1" x2="579.9" y2="713.1" stroke="#111" stroke-width="1.1" />
<text x="574.9" y="716.7" font-size="10" text-anchor="end" fill="#111" >1</text>
<line x1="576.4" y1="689.3" x2="579.9" y2="689.3" stroke="#111" stroke-width="1.1" />
<text x="574.9" y="692.9" font-size="10" text-anchor="end" fill="#111" >2</text>
<line x1="576.4" y1="665.5" x2="579.9" y2="665.5" stroke="#111" stroke-width="1.1" />
<text x="574.9" y="669.1" font-size="10" text-anchor="end" fill="#111" >3</text>
<line x1="576.4" y1="641.7" x2="579.9" y2="641.7" stroke="#111" stroke-width="1.1" />
<text x="574.9" y="645.3" font-size="10" text-anchor="end" fill="#111" >4</text>
<line x1="593.4" y1="736.9" x2="593.4" y2="740.4" stroke="#111" stroke-width="1.1" />
<line x1="615.75" y1="736.9" x2="615.75" y2="740.4" stroke="#111" stroke-width="1.1" />
<line x1="638.6" y1="736.9" x2="638.6" y2="740.4" stroke="#111" stroke-width="1.1" />
<line x1="661.05" y1="736.9" x2="661.05" y2="740.4" stroke="#111" stroke-width="1.1" />
<line x1="638.5" y1="648.8" x2="662.1" y2="648.8" stroke="#000" stroke-width="1.2" />
<text x="652.1" y="644" font-size="10" text-anchor="middle">P=0.007</text>
<text x="557.4" y="689.1" font-size="10.7" text-anchor="middle" transform="rotate(-90 557.4 689.1)" >Elastin degradation score</text>
<text x="0" y="786.8" font-size="18.8" font-weight="bold" >I</text>
<text x="102" y="779.8" font-size="10.2" text-anchor="middle" >P-AAA</text>
<line x1="31" y1="781.8" x2="170.3" y2="781.8" stroke="#000" stroke-width="1.1" />
<text x="59.4" y="795.2" font-size="9.7" text-anchor="middle"><tspan font-style="italic">Gsdme</tspan><tspan font-size="5.82" dy="-3.49">Stop/Stop</tspan></text>
<text x="137.7" y="795.2" font-size="9.7" text-anchor="middle"><tspan font-style="italic">Gsdme</tspan><tspan font-size="5.82" dy="-3.49">Stop/Stop</tspan><tspan dy="3.49">+D+Q</tspan></text>
<text x="58.9" y="866.2" font-size="9.7" text-anchor="middle"><tspan font-style="italic">Gsdme</tspan><tspan font-size="5.82" dy="-3.49">SR</tspan></text>
<text x="134" y="866.2" font-size="9.7" text-anchor="middle"><tspan font-style="italic">Gsdme</tspan><tspan font-size="5.82" dy="-3.49">SR</tspan><tspan dy="3.49">+D+Q</tspan></text>
<line x1="13.1" y1="817.5" x2="13.1" y2="914" stroke="#000" stroke-width="1.1" />
<text x="8.8" y="865" font-size="10" text-anchor="middle" transform="rotate(-90 8.8 865)" >CCL2</text>
<g clip-path="url(#ci17_798)"><rect x="17.8" y="798.5" width="76" height="55.6" fill="#000"/><g filter="url(#speck)"><path d="M17,812 C25,816 32,822 40,826 C50,827 58,824 64,820 C70,815 73,808 74,798 L94,798 L94,818 C85,826 75,832 65,838 C55,842 40,844 17,842 Z" fill="#3030ff"/><path d="M17,845 C25,846 35,847 45,848 C40,852 30,855 17,855 Z" fill="#2a2af2"/><path d="M32,810 C35,808 38,810 37,813 C35,815 32,813 32,810 Z" fill="#2a2af2"/></g></g>
<rect x="17.8" y="798.5" width="76" height="55.6" fill="none" stroke="#111" stroke-width="1.2" />
<g clip-path="url(#ci97_798)"><rect x="97.8" y="798.5" width="75.2" height="55.6" fill="#000"/><g filter="url(#speck)"><path d="M97,798 L102,798 C110,806 125,813 135,815 C150,818 160,820 174,820 L174,838 C165,840 155,844 150,846 C148,850 146,853 145,855 L138,855 C137,848 132,840 122,832 C112,825 104,818 97,814 Z" fill="#2a2af2"/><path d="M170,808 C173,806 175,808 175,812 C173,815 170,813 170,808 Z" fill="#3030ff"/></g></g>
<rect x="97.8" y="798.5" width="75.2" height="55.6" fill="none" stroke="#111" stroke-width="1.2" />
<g clip-path="url(#ci17_869)"><rect x="17.8" y="869" width="76" height="56.1" fill="#000"/><g filter="url(#speck)"><path d="M17,869 L94,869 L94,886.7 L60,886.7 C57,888 55.5,891 55.5,895 L55.5,920 C56,923 58,925 60,926 L17,926 Z" fill="#6a2ae8"/><path d="M17,869 L94,869 L94,875 C70,876 50,878 17,880 Z" fill="#c82888"/><path d="M17,869 L36,869 C38,885 40,905 42,926 L17,926 Z" fill="#c02890"/></g></g>
<rect x="17.8" y="869" width="76" height="56.1" fill="none" stroke="#111" stroke-width="1.2" />
<path d="M58,887.8 C64,886.6 72,886.4 77.5,887.6" stroke="#ff48c8" stroke-width="2" fill="none" stroke-linecap="round"/>
<g clip-path="url(#ci97_869)"><rect x="97.8" y="869" width="75.2" height="56.1" fill="#000"/><g filter="url(#speck)"><path d="M97,869 L104,869 C104,878 106,885 110,891 C115,897 122,901 130,903 C138,903 145,898 150,890 C153,883 153,876 153,869 L168,869 C168,880 167,890 163,898 C158,906 150,912 140,915 C130,917 120,915 112,910 C104,903 99,893 97,880 Z" fill="#2a2af2"/><path d="M111,891 C114,889 117,891 116,895 C114,897 111,895 111,891 Z" fill="#ff3060"/></g></g>
<rect x="97.8" y="869" width="75.2" height="56.1" fill="none" stroke="#111" stroke-width="1.2" />
<rect x="155.5" y="921.3" width="14.5" height="1.6" fill="#fff" />
<circle cx="192.3" cy="786.5" r="3.3" fill="#f07272" stroke="#222" stroke-width="0.8"/>
<text x="197.4" y="789.6" font-size="8.4"><tspan font-style="italic">Gsdme</tspan><tspan font-size="5.04" dy="-3.02">Stop/Stop</tspan></text>
<circle cx="252.8" cy="786.5" r="3.3" fill="#5283f0" stroke="#222" stroke-width="0.8"/>
<text x="257.9" y="789.6" font-size="8.4"><tspan font-style="italic">Gsdme</tspan><tspan font-size="5.04" dy="-3.02">Stop/Stop</tspan><tspan dy="3.02">+D+Q</tspan></text>
<circle cx="192.3" cy="797" r="3.3" fill="#278a27" stroke="#222" stroke-width="0.8"/>
<text x="197.4" y="800.1" font-size="8.4"><tspan font-style="italic">Gsdme</tspan><tspan font-size="5.04" dy="-3.02">SR</tspan></text>
<circle cx="252.8" cy="797" r="3.3" fill="#c472da" stroke="#222" stroke-width="0.8"/>
<text x="257.9" y="800.1" font-size="8.4"><tspan font-style="italic">Gsdme</tspan><tspan font-size="5.04" dy="-3.02">SR</tspan><tspan dy="3.02">+D+Q</tspan></text>
<rect x="231.7" y="920.02" width="17.1" height="2.38" fill="#f07272" stroke="#000" stroke-width="1.0" />
<line x1="240.25" y1="920.74" x2="240.25" y2="919.31" stroke="#000" stroke-width="1.1" />
<line x1="237.25" y1="919.31" x2="243.25" y2="919.31" stroke="#000" stroke-width="1.1" />
<line x1="237.25" y1="920.74" x2="243.25" y2="920.74" stroke="#000" stroke-width="1.1" />
<circle cx="234.25" cy="920.02" r="2.45" fill="#fff" stroke="#000" stroke-width="1.1"/>
<circle cx="238.25" cy="918.24" r="2.45" fill="#fff" stroke="#000" stroke-width="1.1"/>
<circle cx="242.25" cy="919.43" r="2.45" fill="#fff" stroke="#000" stroke-width="1.1"/>
<circle cx="246.25" cy="916.46" r="2.45" fill="#fff" stroke="#000" stroke-width="1.1"/>
<circle cx="236.25" cy="921.21" r="2.45" fill="#fff" stroke="#000" stroke-width="1.1"/>
<circle cx="244.25" cy="921.81" r="2.45" fill="#fff" stroke="#000" stroke-width="1.1"/>
<rect x="254" y="920.02" width="17" height="2.38" fill="#5283f0" stroke="#000" stroke-width="1.0" />
<line x1="262.5" y1="920.74" x2="262.5" y2="919.31" stroke="#000" stroke-width="1.1" />
<line x1="259.5" y1="919.31" x2="265.5" y2="919.31" stroke="#000" stroke-width="1.1" />
<line x1="259.5" y1="920.74" x2="265.5" y2="920.74" stroke="#000" stroke-width="1.1" />
<circle cx="256.5" cy="920.02" r="2.45" fill="#fff" stroke="#000" stroke-width="1.1"/>
<circle cx="260.5" cy="917.64" r="2.45" fill="#fff" stroke="#000" stroke-width="1.1"/>
<circle cx="264.5" cy="918.24" r="2.45" fill="#fff" stroke="#000" stroke-width="1.1"/>
<circle cx="268.5" cy="920.02" r="2.45" fill="#fff" stroke="#000" stroke-width="1.1"/>
<circle cx="258.5" cy="921.21" r="2.45" fill="#fff" stroke="#000" stroke-width="1.1"/>
<circle cx="266.5" cy="921.81" r="2.45" fill="#fff" stroke="#000" stroke-width="1.1"/>
<rect x="277.2" y="860.58" width="16.3" height="61.82" fill="#278a27" stroke="#000" stroke-width="1.0" />
<line x1="285.35" y1="864.15" x2="285.35" y2="857.02" stroke="#000" stroke-width="1.1" />
<line x1="282.35" y1="857.02" x2="288.35" y2="857.02" stroke="#000" stroke-width="1.1" />
<line x1="282.35" y1="864.15" x2="288.35" y2="864.15" stroke="#000" stroke-width="1.1" />
<circle cx="280.35" cy="854.64" r="2.45" fill="#fff" stroke="#000" stroke-width="1.1"/>
<circle cx="284.35" cy="855.83" r="2.45" fill="#fff" stroke="#000" stroke-width="1.1"/>
<circle cx="289.35" cy="852.26" r="2.45" fill="#fff" stroke="#000" stroke-width="1.1"/>
<circle cx="282.35" cy="861.77" r="2.45" fill="#fff" stroke="#000" stroke-width="1.1"/>
<circle cx="290.35" cy="860.58" r="2.45" fill="#fff" stroke="#000" stroke-width="1.1"/>
<circle cx="285.35" cy="872.47" r="2.45" fill="#fff" stroke="#000" stroke-width="1.1"/>
<rect x="299.3" y="906.95" width="16" height="15.45" fill="#c472da" stroke="#000" stroke-width="1.0" />
<line x1="307.3" y1="909.56" x2="307.3" y2="904.33" stroke="#000" stroke-width="1.1" />
<line x1="304.3" y1="904.33" x2="310.3" y2="904.33" stroke="#000" stroke-width="1.1" />
<line x1="304.3" y1="909.56" x2="310.3" y2="909.56" stroke="#000" stroke-width="1.1" />
<circle cx="306.3" cy="897.44" r="2.45" fill="#fff" stroke="#000" stroke-width="1.1"/>
<circle cx="302.3" cy="904.57" r="2.45" fill="#fff" stroke="#000" stroke-width="1.1"/>
<circle cx="311.3" cy="906.95" r="2.45" fill="#fff" stroke="#000" stroke-width="1.1"/>
<circle cx="304.3" cy="910.51" r="2.45" fill="#fff" stroke="#000" stroke-width="1.1"/>
<circle cx="309.3" cy="912.89" r="2.45" fill="#fff" stroke="#000" stroke-width="1.1"/>
<circle cx="307.3" cy="916.46" r="2.45" fill="#fff" stroke="#000" stroke-width="1.1"/>
<line x1="226" y1="826.8" x2="226" y2="922.9" stroke="#111" stroke-width="1.2" />
<line x1="225.4" y1="922.4" x2="321.6" y2="922.4" stroke="#111" stroke-width="1.2" />
<line x1="222.5" y1="922.4" x2="226" y2="922.4" stroke="#111" stroke-width="1.1" />
<text x="221" y="926" font-size="10" text-anchor="end" fill="#111" >0</text>
<line x1="222.5" y1="898.62" x2="226" y2="898.62" stroke="#111" stroke-width="1.1" />
<text x="221" y="902.23" font-size="10" text-anchor="end" fill="#111" >20</text>
<line x1="222.5" y1="874.85" x2="226" y2="874.85" stroke="#111" stroke-width="1.1" />
<text x="221" y="878.45" font-size="10" text-anchor="end" fill="#111" >40</text>
<line x1="222.5" y1="851.07" x2="226" y2="851.07" stroke="#111" stroke-width="1.1" />
<text x="221" y="854.67" font-size="10" text-anchor="end" fill="#111" >60</text>
<line x1="222.5" y1="827.3" x2="226" y2="827.3" stroke="#111" stroke-width="1.1" />
<text x="221" y="830.9" font-size="10" text-anchor="end" fill="#111" >80</text>
<line x1="240.25" y1="922.4" x2="240.25" y2="925.9" stroke="#111" stroke-width="1.1" />
<line x1="262.5" y1="922.4" x2="262.5" y2="925.9" stroke="#111" stroke-width="1.1" />
<line x1="285.35" y1="922.4" x2="285.35" y2="925.9" stroke="#111" stroke-width="1.1" />
<line x1="307.3" y1="922.4" x2="307.3" y2="925.9" stroke="#111" stroke-width="1.1" />
<line x1="282.5" y1="837" x2="311.9" y2="837" stroke="#000" stroke-width="1.2" />
<text x="298.7" y="832.8" font-size="9.5" text-anchor="middle">P=5.524×10<tspan font-size="5.7" dy="-3.8">-7</tspan></text>
<text x="201.4" y="874.5" font-size="10.6" text-anchor="middle" transform="rotate(-90 201.4 874.5)" >CCL2 positive area %</text>
<text x="353.2" y="787" font-size="18.8" font-weight="bold" >J</text>
<text x="458.2" y="777.7" font-size="10.2" text-anchor="middle" >P-AAA</text>
<line x1="387.3" y1="780.5" x2="526" y2="780.5" stroke="#000" stroke-width="1.1" />
<text x="420.1" y="793" font-size="9.7" text-anchor="middle"><tspan font-style="italic">Gsdme</tspan><tspan font-size="5.82" dy="-3.49">Stop/Stop</tspan></text>
<text x="495.4" y="793" font-size="9.7" text-anchor="middle"><tspan font-style="italic">Gsdme</tspan><tspan font-size="5.82" dy="-3.49">Stop/Stop</tspan><tspan dy="3.49">+D+Q</tspan></text>
<text x="417.5" y="865.9" font-size="9.7" text-anchor="middle"><tspan font-style="italic">Gsdme</tspan><tspan font-size="5.82" dy="-3.49">SR</tspan></text>
<text x="495.2" y="865.9" font-size="9.7" text-anchor="middle"><tspan font-style="italic">Gsdme</tspan><tspan font-size="5.82" dy="-3.49">SR</tspan><tspan dy="3.49">+D+Q</tspan></text>
<line x1="369.4" y1="812.3" x2="369.4" y2="912" stroke="#000" stroke-width="1.1" />
<text x="365" y="861" font-size="10" text-anchor="middle" transform="rotate(-90 365 861)" >MMP2</text>
<g clip-path="url(#ci376_797)"><rect x="376.4" y="797" width="77.3" height="54.7" fill="#000"/><g filter="url(#speck)"><path d="M376,815 C385,810 395,805 405,800 L412,797 L430,797 C438,797 446,797 454,797 L454,805 C448,812 440,822 430,828 C420,836 405,842 395,845 C388,847 382,848 376,848 Z" fill="#2a2af2"/><path d="M388,838 C398,830 410,820 422,808 L425,811 C413,823 401,833 391,841 Z" fill="#d02878"/><path d="M378,800 C382,799 386,801 385,805 C382,807 378,805 378,800 Z" fill="#2a2af2"/></g></g>
<rect x="376.4" y="797" width="77.3" height="54.7" fill="none" stroke="#111" stroke-width="1.2" />
<g clip-path="url(#ci457_797)"><rect x="457.1" y="797" width="77.8" height="54.7" fill="#000"/><g filter="url(#speck)"><path d="M457,797 L475,797 C476,806 479,815 488,822 C500,829 515,830 535,829 L535,852 L457,852 Z" fill="#3030ff"/><path d="M460,820 C464,830 470,838 478,842 L476,845 C468,840 462,832 458,822 Z" fill="#c02880"/></g></g>
<rect x="457.1" y="797" width="77.8" height="54.7" fill="none" stroke="#111" stroke-width="1.2" />
<g clip-path="url(#ci376_868)"><rect x="376.4" y="868.4" width="77.3" height="54.6" fill="#000"/><g filter="url(#speck)"><path d="M376,868 L390,868 C395,876 402,884 410,890 C420,895 430,896 440,895 C446,894 450,892 454,890 L454,924 L376,924 Z" fill="#2a2af2"/><path d="M376,868 L390,868 C395,876 402,884 410,890 C418,896 425,898 430,900 C425,906 418,910 410,912 C400,905 388,898 376,892 Z" fill="#d82a70"/><path d="M376,890 C388,897 400,905 412,912 L412,916 C400,910 388,903 376,898 Z" fill="#a02ac0"/></g></g>
<rect x="376.4" y="868.4" width="77.3" height="54.6" fill="none" stroke="#111" stroke-width="1.2" />
<g clip-path="url(#ci457_868)"><rect x="457.1" y="868.4" width="77.8" height="54.6" fill="#000"/><g filter="url(#speck)"><path d="M457,872 C470,875 490,880 510,878 C520,875 528,870 535,868 L535,910 C525,912 515,916 505,917 C490,916 470,912 457,906 Z" fill="#2a2af2"/><path d="M470,898 C475,896 480,897 482,900 C478,903 473,902 470,898 Z" fill="#ff3070"/><path d="M500,902 C505,900 510,901 512,904 C508,907 503,906 500,902 Z" fill="#ff3070"/></g></g>
<rect x="457.1" y="868.4" width="77.8" height="54.6" fill="none" stroke="#111" stroke-width="1.2" />
<rect x="517.3" y="920.1" width="14.8" height="1.6" fill="#fff" />
<circle cx="545.2" cy="780.7" r="3.3" fill="#f07272" stroke="#222" stroke-width="0.8"/>
<text x="550.3" y="783.8" font-size="8.4"><tspan font-style="italic">Gsdme</tspan><tspan font-size="5.04" dy="-3.02">Stop/Stop</tspan></text>
<circle cx="605.6" cy="780.7" r="3.3" fill="#5283f0" stroke="#222" stroke-width="0.8"/>
<text x="610.7" y="783.8" font-size="8.4"><tspan font-style="italic">Gsdme</tspan><tspan font-size="5.04" dy="-3.02">Stop/Stop</tspan><tspan dy="3.02">+D+Q</tspan></text>
<circle cx="545.2" cy="792.3" r="3.3" fill="#278a27" stroke="#222" stroke-width="0.8"/>
<text x="550.3" y="795.4" font-size="8.4"><tspan font-style="italic">Gsdme</tspan><tspan font-size="5.04" dy="-3.02">SR</tspan></text>
<circle cx="605.6" cy="792.3" r="3.3" fill="#c472da" stroke="#222" stroke-width="0.8"/>
<text x="610.7" y="795.4" font-size="8.4"><tspan font-style="italic">Gsdme</tspan><tspan font-size="5.04" dy="-3.02">SR</tspan><tspan dy="3.02">+D+Q</tspan></text>
<rect x="581.2" y="914.92" width="17.1" height="4.78" fill="#f07272" stroke="#000" stroke-width="1.0" />
<line x1="589.75" y1="915.88" x2="589.75" y2="913.96" stroke="#000" stroke-width="1.1" />
<line x1="586.75" y1="913.96" x2="592.75" y2="913.96" stroke="#000" stroke-width="1.1" />
<line x1="586.75" y1="915.88" x2="592.75" y2="915.88" stroke="#000" stroke-width="1.1" />
<circle cx="583.75" cy="916.51" r="2.45" fill="#fff" stroke="#000" stroke-width="1.1"/>
<circle cx="587.75" cy="913.33" r="2.45" fill="#fff" stroke="#000" stroke-width="1.1"/>
<circle cx="591.75" cy="914.92" r="2.45" fill="#fff" stroke="#000" stroke-width="1.1"/>
<circle cx="595.75" cy="911.73" r="2.45" fill="#fff" stroke="#000" stroke-width="1.1"/>
<circle cx="585.75" cy="918.11" r="2.45" fill="#fff" stroke="#000" stroke-width="1.1"/>
<circle cx="593.75" cy="918.9" r="2.45" fill="#fff" stroke="#000" stroke-width="1.1"/>
<rect x="604.3" y="914.92" width="17.1" height="4.78" fill="#5283f0" stroke="#000" stroke-width="1.0" />
<line x1="612.85" y1="915.88" x2="612.85" y2="913.96" stroke="#000" stroke-width="1.1" />
<line x1="609.85" y1="913.96" x2="615.85" y2="913.96" stroke="#000" stroke-width="1.1" />
<line x1="609.85" y1="915.88" x2="615.85" y2="915.88" stroke="#000" stroke-width="1.1" />
<circle cx="606.85" cy="914.92" r="2.45" fill="#fff" stroke="#000" stroke-width="1.1"/>
<circle cx="610.85" cy="916.51" r="2.45" fill="#fff" stroke="#000" stroke-width="1.1"/>
<circle cx="614.85" cy="913.33" r="2.45" fill="#fff" stroke="#000" stroke-width="1.1"/>
<circle cx="618.85" cy="911.73" r="2.45" fill="#fff" stroke="#000" stroke-width="1.1"/>
<circle cx="608.85" cy="918.11" r="2.45" fill="#fff" stroke="#000" stroke-width="1.1"/>
<circle cx="616.85" cy="918.9" r="2.45" fill="#fff" stroke="#000" stroke-width="1.1"/>
<rect x="626.6" y="856.76" width="17.1" height="62.94" fill="#278a27" stroke="#000" stroke-width="1.0" />
<line x1="635.15" y1="861.54" x2="635.15" y2="851.98" stroke="#000" stroke-width="1.1" />
<line x1="632.15" y1="851.98" x2="638.15" y2="851.98" stroke="#000" stroke-width="1.1" />
<line x1="632.15" y1="861.54" x2="638.15" y2="861.54" stroke="#000" stroke-width="1.1" />
<circle cx="634.15" cy="836.85" r="2.45" fill="#fff" stroke="#000" stroke-width="1.1"/>
<circle cx="632.15" cy="851.19" r="2.45" fill="#fff" stroke="#000" stroke-width="1.1"/>
<circle cx="638.15" cy="855.97" r="2.45" fill="#fff" stroke="#000" stroke-width="1.1"/>
<circle cx="630.15" cy="862.34" r="2.45" fill="#fff" stroke="#000" stroke-width="1.1"/>
<circle cx="640.15" cy="863.93" r="2.45" fill="#fff" stroke="#000" stroke-width="1.1"/>
<circle cx="635.15" cy="875.09" r="2.45" fill="#fff" stroke="#000" stroke-width="1.1"/>
<rect x="649.5" y="898.99" width="16.3" height="20.71" fill="#c472da" stroke="#000" stroke-width="1.0" />
<line x1="657.65" y1="902.49" x2="657.65" y2="895.48" stroke="#000" stroke-width="1.1" />
<line x1="654.65" y1="895.48" x2="660.65" y2="895.48" stroke="#000" stroke-width="1.1" />
<line x1="654.65" y1="902.49" x2="660.65" y2="902.49" stroke="#000" stroke-width="1.1" />
<circle cx="657.65" cy="886.24" r="2.45" fill="#fff" stroke="#000" stroke-width="1.1"/>
<circle cx="654.65" cy="894.21" r="2.45" fill="#fff" stroke="#000" stroke-width="1.1"/>
<circle cx="661.65" cy="900.58" r="2.45" fill="#fff" stroke="#000" stroke-width="1.1"/>
<circle cx="652.65" cy="902.17" r="2.45" fill="#fff" stroke="#000" stroke-width="1.1"/>
<circle cx="660.65" cy="905.36" r="2.45" fill="#fff" stroke="#000" stroke-width="1.1"/>
<circle cx="656.65" cy="910.14" r="2.45" fill="#fff" stroke="#000" stroke-width="1.1"/>
<line x1="575.4" y1="823.6" x2="575.4" y2="920.2" stroke="#111" stroke-width="1.2" />
<line x1="574.8" y1="919.7" x2="671.8" y2="919.7" stroke="#111" stroke-width="1.2" />
<line x1="571.9" y1="919.7" x2="575.4" y2="919.7" stroke="#111" stroke-width="1.1" />
<text x="570.4" y="923.3" font-size="10" text-anchor="end" fill="#111" >0</text>
<line x1="571.9" y1="887.83" x2="575.4" y2="887.83" stroke="#111" stroke-width="1.1" />
<text x="570.4" y="891.43" font-size="10" text-anchor="end" fill="#111" >20</text>
<line x1="571.9" y1="855.97" x2="575.4" y2="855.97" stroke="#111" stroke-width="1.1" />
<text x="570.4" y="859.57" font-size="10" text-anchor="end" fill="#111" >40</text>
<line x1="571.9" y1="824.1" x2="575.4" y2="824.1" stroke="#111" stroke-width="1.1" />
<text x="570.4" y="827.7" font-size="10" text-anchor="end" fill="#111" >60</text>
<line x1="589.75" y1="919.7" x2="589.75" y2="923.2" stroke="#111" stroke-width="1.1" />
<line x1="612.85" y1="919.7" x2="612.85" y2="923.2" stroke="#111" stroke-width="1.1" />
<line x1="635.15" y1="919.7" x2="635.15" y2="923.2" stroke="#111" stroke-width="1.1" />
<line x1="657.65" y1="919.7" x2="657.65" y2="923.2" stroke="#111" stroke-width="1.1" />
<line x1="632.4" y1="829.4" x2="662.1" y2="829.4" stroke="#000" stroke-width="1.2" />
<text x="646.9" y="825" font-size="9.5" text-anchor="middle">P=4.870×10<tspan font-size="5.7" dy="-3.8">-5·</tspan></text>
<text x="548.6" y="870.6" font-size="10.7" text-anchor="middle" transform="rotate(-90 548.6 870.6)" >MMP2 positive area %</text></svg></body></html>
